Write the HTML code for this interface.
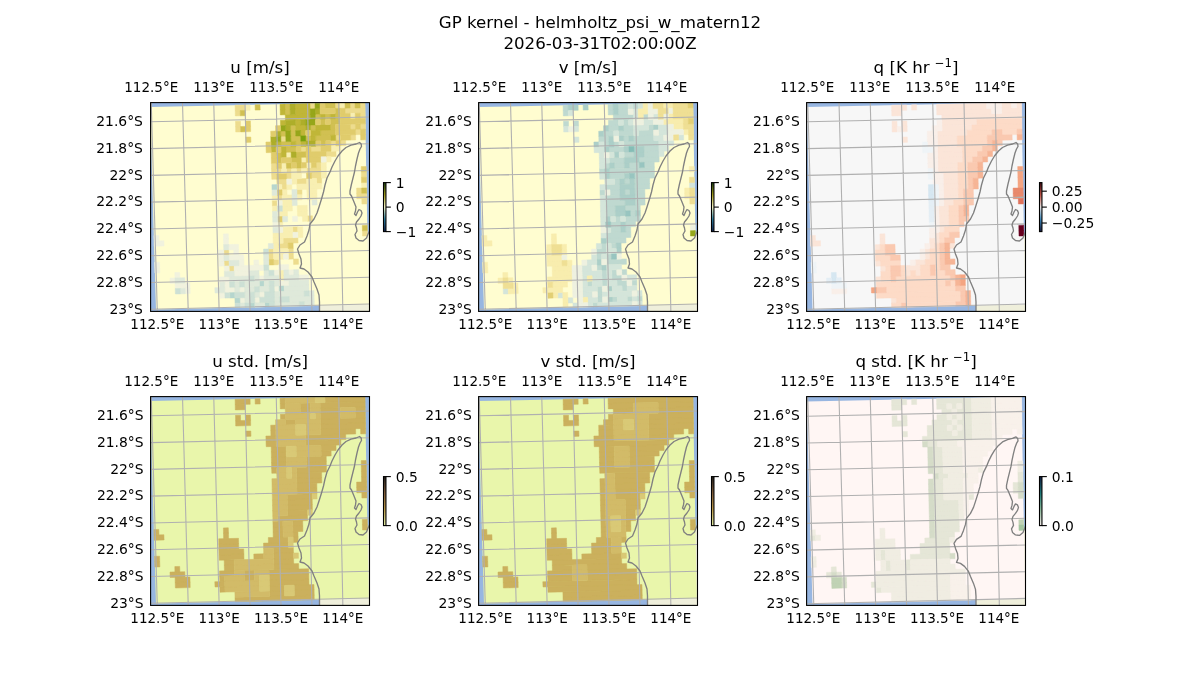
<!DOCTYPE html><html><head><meta charset="utf-8"><title>GP kernel</title><style>html,body{margin:0;padding:0;background:#fff}svg{display:block}</style></head><body><svg width="1200" height="700" viewBox="0 0 1200 700" font-family="'DejaVu Sans','Liberation Sans',sans-serif" fill="#000"><defs><clipPath id="cp"><rect x="0" y="0" width="218.9" height="208.8"/></clipPath><path id="gl" d="M0.65 0L6.7 208.8M31.9 0L37.63 208.8M63.15 0L68.55 208.8M94.4 0L99.48 208.8M125.65 0L130.4 208.8M156.9 0L161.33 208.8M188.15 0L192.25 208.8M219.4 0L223.17 208.8M0 -7.59L218.9 -12.31M0 19.2L218.9 14.4M0 45.99L218.9 41.11M0 72.77L218.9 67.83M0 99.56L218.9 94.54M0 126.34L218.9 121.26M0 153.13L218.9 147.97M0 179.92L218.9 174.68M0 206.7L218.9 201.4"/><path id="co" d="M168.9 209.4L168.9 199.4L168.4 192.4L166.4 186.4L163.4 179.4L161.4 174.4L157.4 169.4L153.4 166.4L149.4 165.4L150.9 161.4L150.4 156.4L148.4 151.4L146.9 146.4L149.4 142.4L153.9 139.4L156.4 133.4L158.4 127.4L159.4 121.4L163.4 116.4L166.4 110.4L168.4 104.4L170.9 96.4L172.9 89.4L174.4 82.4L176.4 75.4L179.4 69.4L181.4 64.4L184.4 58.4L187.4 53.4L191.4 48.4L195.4 44.9L200.4 42.6L205.4 41.4L208.9 39.9L210.6 41.4L210.9 43.9L209.4 46.4L207.9 50.4L206.4 56.4L204.9 63.4L203.9 69.4L202.4 75.4L200.9 81.4L199.4 88.4L199.4 91.4L200.9 93.4L203.4 99.4L205.4 104.4L204.9 108.4L203.9 111.4L205.4 112.9L206.9 109.4L208.4 106.9L210.4 107.9L211.4 110.4L210.4 113.4L208.4 116.4L205.9 119.4L204.9 122.4L205.9 125.4L206.4 128.4L204.4 131.9L205.4 135.4L208.4 137.9L212.4 138.4L215.9 135.4L217.9 130.4L219.4 127.4"/><path id="ex" d="M-0.47 4.48L214.4 -0.19L218.1 201.82L5.41 206.97z"/><path id="ld" d="M219.4 127.4L217.9 130.4L215.9 135.4L212.4 138.4L208.4 137.9L205.4 135.4L204.4 131.9L206.4 128.4L205.9 125.4L204.9 122.4L205.9 119.4L208.4 116.4L210.4 113.4L211.4 110.4L210.4 107.9L208.4 106.9L206.9 109.4L205.4 112.9L203.9 111.4L204.9 108.4L205.4 104.4L203.4 99.4L200.9 93.4L199.4 91.4L199.4 88.4L200.9 81.4L202.4 75.4L203.9 69.4L204.9 63.4L206.4 56.4L207.9 50.4L209.4 46.4L210.9 43.9L210.6 41.4L208.9 39.9L205.4 41.4L200.4 42.6L195.4 44.9L191.4 48.4L187.4 53.4L184.4 58.4L181.4 64.4L179.4 69.4L176.4 75.4L174.4 82.4L172.9 89.4L170.9 96.4L168.4 104.4L166.4 110.4L163.4 116.4L159.4 121.4L158.4 127.4L156.4 133.4L153.9 139.4L149.4 142.4L146.9 146.4L148.4 151.4L150.4 156.4L150.9 161.4L149.4 165.4L153.4 166.4L157.4 169.4L161.4 174.4L163.4 179.4L166.4 186.4L168.4 192.4L168.9 199.4L168.9 209.4L168.9 210.8L220.9 210.8z"/></defs><rect width="1200" height="700" fill="#fff"/><text x="600" y="28" font-size="16.67" text-anchor="middle">GP kernel - helmholtz_psi_w_matern12</text><text x="600" y="49" font-size="16.67" text-anchor="middle">2026-03-31T02:00:00Z</text><g transform="translate(150.6 102.6)"><g clip-path="url(#cp)"><rect width="218.9" height="208.8" fill="#97b6e1"/><g transform="translate(0 0)"><use href="#ld" fill="#efefdb"/><use href="#ex" fill="#fffdd0"/><g stroke-width="0.5" stroke-linejoin="miter"><path fill="#eddc8e" stroke="#eddc8e" d="M84.5 2.6L94.5 2.4L94.6 7.8L84.6 8zM159.4 1L164.4 0.9L164.5 6.2L159.5 6.3zM184.4 0.5L189.4 0.3L189.5 5.7L184.5 5.8zM199.4 0.1L204.4 0L204.5 5.4L199.5 5.5zM209.4 -0.1L214.4 -0.2L214.5 5.1L209.5 5.3zM84.6 8L89.6 7.9L89.7 13.2L84.7 13.3zM194.5 5.6L214.5 5.1L214.6 10.5L194.6 10.9zM209.6 10.6L214.6 10.5L214.7 15.8L209.7 15.9zM84.9 18.7L89.9 18.6L90 23.9L85 24zM85 24L90 23.9L90.1 29.3L85.1 29.4zM199.8 21.5L204.8 21.4L204.9 26.7L199.9 26.8zM209.8 21.3L214.8 21.2L214.9 26.5L209.9 26.6zM204.9 26.7L209.9 26.6L210 32L205 32.1zM130.2 33.7L135.2 33.6L135.3 39L130.3 39.1zM185 32.5L190 32.4L190.1 37.7L185.2 37.9zM200 32.2L205 32.1L205.1 37.4L200.1 37.5zM180.2 38L185.2 37.9L185.3 43.2L180.3 43.3zM190.1 37.7L195.1 37.6L195.2 43L190.2 43.1zM150.3 44L155.3 43.9L155.4 49.2L150.5 49.3zM160.3 43.8L170.3 43.5L170.4 48.9L160.4 49.1zM175.4 48.8L185.4 48.5L185.5 53.9L175.5 54.1zM120.8 60.7L125.8 60.6L125.9 65.9L120.9 66zM165.6 59.7L170.6 59.6L170.7 64.9L165.8 65zM120.9 66L130.9 65.8L131 71.2L121 71.4zM135.9 65.7L140.8 65.6L141 70.9L136 71zM145.8 65.5L150.8 65.4L150.9 70.7L145.9 70.8zM155.8 65.2L170.7 64.9L170.8 70.2L155.9 70.6zM121 71.4L126 71.3L126.1 76.6L121.2 76.7zM136 71L141 70.9L141.1 76.3L136.1 76.4zM160.9 70.5L170.8 70.2L171 75.6L161 75.8zM210.7 69.3L215.7 69.2L215.8 74.6L210.8 74.7zM126.1 76.6L136.1 76.4L136.2 81.7L126.3 82zM146.1 76.2L156 75.9L156.1 81.3L146.2 81.5zM166 75.7L171 75.6L171.1 80.9L166.1 81zM131.2 81.8L136.2 81.7L136.3 87.1L131.4 87.2zM146.3 86.8L151.3 86.7L151.4 92.1L146.4 92.2zM206 85.5L211 85.4L211.1 90.7L206.1 90.8zM126.5 92.6L131.5 92.5L131.6 97.9L126.6 98zM206.1 90.8L216.1 90.6L216.2 95.9L206.2 96.2zM121.7 98.1L126.6 98L126.8 103.3L121.8 103.5zM211.2 96.1L216.2 95.9L216.3 101.3L211.3 101.4zM156.8 113.3L161.8 113.2L161.9 118.6L156.9 118.7zM142.1 124.4L147.1 124.3L147.2 129.6L142.3 129.7zM211.8 128.1L216.7 128L216.8 133.3L211.9 133.4zM132.5 135.3L147.3 135L147.5 140.3L132.6 140.6zM127.6 140.8L137.5 140.5L137.7 145.9L127.7 146.1zM73.2 147.4L78.1 147.3L78.3 152.6L73.3 152.7zM117.8 146.3L122.8 146.2L122.9 151.6L117.9 151.7zM137.7 145.9L142.6 145.8L142.7 151.1L137.8 151.2zM117.9 151.7L122.9 151.6L123 156.9L118.1 157zM137.8 151.2L142.7 151.1L142.9 156.4L137.9 156.6zM73.4 158.1L78.4 158L78.5 163.3L73.6 163.4zM123 156.9L128 156.8L128.1 162.1L123.1 162.3zM142.9 156.4L147.8 156.3L147.9 161.7L143 161.8zM78.5 163.3L83.5 163.2L83.6 168.6L78.7 168.7z"/><path fill="#f8efb2" stroke="#f8efb2" d="M94.5 2.4L99.5 2.3L99.6 7.7L94.6 7.8zM189.4 0.3L194.4 0.2L194.5 5.6L189.5 5.7zM199.6 10.8L204.6 10.7L204.7 16L199.7 16.2zM180.3 43.3L190.2 43.1L190.3 48.4L180.4 48.7zM135.5 49.7L140.5 49.5L140.6 54.9L135.6 55zM150.6 54.7L155.6 54.6L155.7 59.9L150.7 60zM175.5 54.1L180.5 54L180.6 59.3L175.6 59.5zM130.8 60.5L135.7 60.3L135.9 65.7L130.9 65.8zM155.7 59.9L160.7 59.8L160.8 65.1L155.8 65.2zM170.6 59.6L175.6 59.5L175.7 64.8L170.7 64.9zM130.9 65.8L135.9 65.7L136 71L131 71.2zM140.8 65.6L145.8 65.5L145.9 70.8L141 70.9zM150.8 65.4L155.8 65.2L155.9 70.6L150.9 70.7zM170.7 64.9L175.7 64.8L175.8 70.1L170.8 70.2zM141 70.9L150.9 70.7L151 76L141.1 76.3zM170.8 70.2L175.8 70.1L175.9 75.5L171 75.6zM141.1 76.3L146.1 76.2L146.2 81.5L141.2 81.6zM156 75.9L166 75.7L166.1 81L156.1 81.3zM126.3 82L131.2 81.8L131.4 87.2L126.4 87.3zM136.2 81.7L141.2 81.6L141.3 87L136.3 87.1zM146.2 81.5L171.1 80.9L171.2 86.3L146.3 86.8zM210.9 80L215.9 79.9L216 85.3L211 85.4zM131.4 87.2L136.3 87.1L136.5 92.4L131.5 92.5zM156.2 86.6L166.2 86.4L166.3 91.7L156.4 92zM121.5 92.8L126.5 92.6L126.6 98L121.7 98.1zM131.5 92.5L141.4 92.3L141.6 97.7L131.6 97.9zM146.4 92.2L151.4 92.1L151.5 97.4L146.5 97.5zM156.4 92L166.3 91.7L166.4 97.1L156.5 97.3zM131.6 97.9L141.6 97.7L141.7 103L131.7 103.2zM121.8 103.5L126.8 103.3L126.9 108.7L121.9 108.8zM131.7 103.2L141.7 103L141.8 108.3L131.8 108.6zM146.6 102.9L156.6 102.7L156.7 108L146.8 108.2zM126.9 108.7L136.8 108.5L136.9 113.8L127 114zM146.8 108.2L156.7 108L156.8 113.3L146.9 113.6zM151.8 113.5L156.8 113.3L156.9 118.7L152 118.8zM127.1 119.4L132.1 119.3L132.2 124.6L127.2 124.7zM132.2 124.6L142.1 124.4L142.3 129.7L132.3 130zM147.1 124.3L152.1 124.1L152.2 129.5L147.2 129.6zM122.4 130.2L142.3 129.7L142.4 135.1L122.5 135.5zM147.2 129.6L152.2 129.5L152.3 134.8L147.3 135zM122.5 135.5L132.5 135.3L132.6 140.6L122.6 140.9zM122.6 140.9L127.6 140.8L127.7 146.1L122.8 146.2zM122.8 146.2L137.7 145.9L137.8 151.2L122.9 151.6zM122.9 151.6L132.8 151.3L132.9 156.7L123 156.9zM128.2 167.5L133.2 167.4L133.3 172.7L128.3 172.8zM128.3 172.8L133.3 172.7L133.4 178.1L128.5 178.2z"/><path fill="#d1c052" stroke="#d1c052" d="M104.5 2.2L109.4 2.1L109.6 7.4L104.6 7.5zM134.4 1.5L139.4 1.4L139.5 6.8L134.6 6.9zM174.4 0.7L184.4 0.5L184.5 5.8L174.5 6zM194.4 0.2L199.4 0.1L199.5 5.5L194.5 5.6zM204.4 0L209.4 -0.1L209.5 5.3L204.5 5.4zM89.6 7.9L94.6 7.8L94.7 13.1L89.7 13.2zM134.6 6.9L139.5 6.8L139.7 12.1L134.7 12.2zM184.5 5.8L189.5 5.7L189.6 11L184.6 11.1zM164.6 11.6L169.6 11.5L169.7 16.8L164.8 16.9zM174.6 11.4L179.6 11.3L179.7 16.6L174.7 16.7zM184.6 11.1L189.6 11L189.7 16.4L184.7 16.5zM169.7 16.8L174.7 16.7L174.8 22L169.9 22.2zM179.7 16.6L189.7 16.4L189.8 21.7L179.8 21.9zM90 23.9L95 23.8L95.1 29.2L90.1 29.3zM139.9 22.8L144.9 22.7L145 28.1L140 28.2zM159.9 22.4L164.9 22.3L165 27.6L160 27.7zM179.8 21.9L184.8 21.8L184.9 27.2L179.9 27.3zM130 28.4L135 28.3L135.2 33.6L130.2 33.7zM140 28.2L145 28.1L145.1 33.4L140.1 33.5zM170 27.5L184.9 27.2L185 32.5L170.1 32.8zM140.1 33.5L150.1 33.3L150.2 38.6L140.3 38.9zM155.1 33.2L160.1 33.1L160.2 38.4L155.2 38.5zM165.1 33L180.1 32.6L180.2 38L165.2 38.3zM130.3 39.1L140.3 38.9L140.4 44.2L130.4 44.4zM145.2 38.7L150.2 38.6L150.3 44L145.4 44.1zM170.2 38.2L175.2 38.1L175.3 43.4L170.3 43.5zM135.4 44.3L145.4 44.1L145.5 49.4L135.5 49.7zM125.5 49.9L130.5 49.8L130.6 55.1L125.7 55.2zM145.5 49.4L155.4 49.2L155.6 54.6L145.6 54.8zM125.7 55.2L130.6 55.1L130.8 60.5L125.8 60.6zM140.6 54.9L150.6 54.7L150.7 60L140.7 60.2zM135.7 60.3L140.7 60.2L140.8 65.6L135.9 65.7zM145.7 60.1L150.7 60L150.8 65.4L145.8 65.5zM211 85.4L216 85.3L216.1 90.6L211.1 90.7zM211.7 122.8L216.6 122.6L216.7 128L211.8 128.1z"/><path fill="#c0b638" stroke="#c0b638" d="M129.4 1.7L134.4 1.5L134.6 6.9L129.6 7zM144.4 1.3L159.4 1L159.5 6.3L144.5 6.7zM129.6 7L134.6 6.9L134.7 12.2L129.7 12.3zM144.5 6.7L159.5 6.3L159.6 11.7L144.7 12zM134.7 12.2L159.6 11.7L159.8 17L134.8 17.6zM169.6 11.5L174.6 11.4L174.7 16.7L169.7 16.8zM179.6 11.3L184.6 11.1L184.7 16.5L179.7 16.6zM129.8 17.7L134.8 17.6L134.9 22.9L129.9 23zM144.8 17.4L149.8 17.3L149.9 22.6L144.9 22.7zM144.9 22.7L154.9 22.5L155 27.8L145 28.1zM164.9 22.3L179.8 21.9L179.9 27.3L165 27.6zM150 27.9L155 27.8L155.1 33.2L150.1 33.3zM160 27.7L170 27.5L170.1 32.8L160.1 33.1zM160.1 33.1L165.1 33L165.2 38.3L160.2 38.4zM180.1 32.6L185 32.5L185.2 37.9L180.2 38zM125.3 39.2L130.3 39.1L130.4 44.4L125.4 44.5zM140.3 38.9L145.2 38.7L145.4 44.1L140.4 44.2zM150.2 38.6L155.2 38.5L155.3 43.9L150.3 44zM120.4 44.6L125.4 44.5L125.5 49.9L120.6 50zM130.4 44.4L135.4 44.3L135.5 49.7L130.5 49.8zM130.5 49.8L135.5 49.7L135.6 55L130.6 55.1z"/><path fill="#aeae2a" stroke="#aeae2a" d="M139.4 1.4L144.4 1.3L144.5 6.7L139.5 6.8zM139.5 6.8L144.5 6.7L144.7 12L139.7 12.1zM164.5 6.2L169.5 6.1L169.6 11.5L164.6 11.6zM134.8 17.6L144.8 17.4L144.9 22.7L134.9 22.9zM149.8 17.3L154.8 17.1L154.9 22.5L149.9 22.6zM134.9 22.9L139.9 22.8L140 28.2L135 28.3zM154.9 22.5L159.9 22.4L160 27.7L155 27.8zM125 28.5L130 28.4L130.2 33.7L125.2 33.8zM120.2 33.9L125.2 33.8L125.3 39.2L120.3 39.3zM120.3 39.3L125.3 39.2L125.4 44.5L120.4 44.6zM155.2 38.5L165.2 38.3L165.3 43.6L155.3 43.9zM140.5 49.5L145.5 49.4L145.6 54.8L140.6 54.9z"/><path fill="#96a61a" stroke="#96a61a" d="M164.4 0.9L169.4 0.8L169.5 6.1L164.5 6.2zM159.5 6.3L164.5 6.2L164.6 11.6L159.6 11.7zM159.6 11.7L164.6 11.6L164.8 16.9L159.8 17zM154.8 17.1L164.8 16.9L164.9 22.3L154.9 22.5zM129.9 23L134.9 22.9L135 28.3L130 28.4zM135 28.3L140 28.2L140.1 33.5L135.2 33.6zM145 28.1L150 27.9L150.1 33.3L145.1 33.4zM125.2 33.8L130.2 33.7L130.3 39.1L125.3 39.2zM135.2 33.6L140.1 33.5L140.3 38.9L135.3 39z"/><path fill="#e0cc6c" stroke="#e0cc6c" d="M169.4 0.8L174.4 0.7L174.5 6L169.5 6.1zM169.5 6.1L184.5 5.8L184.6 11.1L169.6 11.5zM189.5 5.7L194.5 5.6L194.6 10.9L189.6 11zM189.6 11L199.6 10.8L199.7 16.2L189.7 16.4zM204.6 10.7L209.6 10.6L209.7 15.9L204.7 16zM94.8 18.5L99.8 18.3L100 23.7L95 23.8zM164.8 16.9L169.7 16.8L169.9 22.2L164.9 22.3zM174.7 16.7L179.7 16.6L179.8 21.9L174.8 22zM189.7 16.4L214.7 15.8L214.8 21.2L189.8 21.7zM95 23.8L100 23.7L100.1 29L95.1 29.2zM124.9 23.1L129.9 23L130 28.4L125 28.5zM184.8 21.8L199.8 21.5L199.9 26.8L184.9 27.2zM204.8 21.4L209.8 21.3L209.9 26.6L204.9 26.7zM120.1 28.6L125 28.5L125.2 33.8L120.2 33.9zM155 27.8L160 27.7L160.1 33.1L155.1 33.2zM184.9 27.2L204.9 26.7L205 32.1L185 32.5zM209.9 26.6L214.9 26.5L215 31.9L210 32zM95.2 34.5L100.2 34.4L100.4 39.7L95.4 39.9zM190 32.4L200 32.2L200.1 37.5L190.1 37.7zM210 32L215 31.9L215.1 37.2L210.1 37.3zM115.3 39.4L120.3 39.3L120.4 44.6L115.4 44.8zM165.2 38.3L170.2 38.2L170.3 43.5L165.3 43.6zM175.2 38.1L180.2 38L180.3 43.3L175.3 43.4zM185.2 37.9L190.1 37.7L190.2 43.1L185.3 43.2zM115.4 44.8L120.4 44.6L120.6 50L115.6 50.1zM125.4 44.5L130.4 44.4L130.5 49.8L125.5 49.9zM145.4 44.1L150.3 44L150.5 49.3L145.5 49.4zM155.3 43.9L160.3 43.8L160.4 49.1L155.4 49.2zM170.3 43.5L180.3 43.3L180.4 48.7L170.4 48.9zM120.6 50L125.5 49.9L125.7 55.2L120.7 55.3zM155.4 49.2L175.4 48.8L175.5 54.1L155.6 54.6zM120.7 55.3L125.7 55.2L125.8 60.6L120.8 60.7zM130.6 55.1L140.6 54.9L140.7 60.2L130.8 60.5zM155.6 54.6L170.5 54.2L170.6 59.6L155.7 59.9zM125.8 60.6L130.8 60.5L130.9 65.8L125.9 65.9zM140.7 60.2L145.7 60.1L145.8 65.5L140.8 65.6zM150.7 60L155.7 59.9L155.8 65.2L150.8 65.4zM160.7 59.8L165.6 59.7L165.8 65L160.8 65.1zM210.6 64L215.6 63.9L215.7 69.2L210.7 69.3zM126 71.3L136 71L136.1 76.4L126.1 76.6zM155.9 70.6L160.9 70.5L161 75.8L156 75.9zM210.8 74.7L215.8 74.6L215.9 79.9L210.9 80zM126.4 87.3L131.4 87.2L131.5 92.5L126.5 92.6zM127 114L132 113.9L132.1 119.3L127.1 119.4zM137.5 140.5L142.5 140.4L142.6 145.8L137.7 145.9zM118.1 157L123 156.9L123.1 162.3L118.2 162.4z"/><path fill="#7a9e0c" stroke="#7a9e0c" d="M150.1 33.3L155.1 33.2L155.2 38.5L150.2 38.6z"/><path fill="#f1f2de" stroke="#f1f2de" d="M170.5 54.2L175.5 54.1L175.6 59.5L170.6 59.6zM136.1 76.4L141.1 76.3L141.2 81.6L136.2 81.7zM126.6 98L131.6 97.9L131.7 103.2L126.8 103.3zM141.9 113.7L146.9 113.6L147 118.9L142 119zM122.2 119.5L127.1 119.4L127.2 124.7L122.3 124.8zM127.2 124.7L132.2 124.6L132.3 130L127.4 130.1zM3.3 133L8.2 132.8L8.4 138.2L3.4 138.3zM72.8 131.3L77.7 131.2L77.9 136.6L72.9 136.7zM142.3 129.7L147.2 129.6L147.3 135L142.4 135.1zM3.4 138.3L13.3 138.1L13.5 143.4L3.6 143.7zM72.9 136.7L77.9 136.6L78 141.9L73 142zM78 141.9L87.9 141.7L88 147L78.1 147.3zM68.2 147.5L73.2 147.4L73.3 152.7L68.3 152.9zM83.1 147.2L88 147L88.2 152.4L83.2 152.5zM68.3 152.9L73.3 152.7L73.4 158.1L68.5 158.2zM78.3 152.6L93.1 152.3L93.3 157.6L78.4 158zM132.8 151.3L137.8 151.2L137.9 156.6L132.9 156.7zM4 159.7L9 159.6L9.1 165L4.2 165.1zM68.5 158.2L73.4 158.1L73.6 163.4L68.6 163.6zM88.3 157.7L93.3 157.6L93.4 163L88.4 163.1zM103.2 157.4L108.1 157.3L108.3 162.6L103.3 162.7zM4.2 165.1L9.1 165L9.3 170.3L4.3 170.4zM73.6 163.4L78.5 163.3L78.7 168.7L73.7 168.8zM83.5 163.2L113.2 162.5L113.4 167.8L83.6 168.6zM128.1 162.1L138 161.9L138.1 167.3L128.2 167.5zM24.2 170L29.1 169.8L29.3 175.2L24.3 175.3zM83.6 168.6L98.5 168.2L98.6 173.5L83.8 173.9zM123.3 167.6L128.2 167.5L128.3 172.8L123.4 173zM138.1 167.3L143.1 167.1L143.2 172.5L138.3 172.6zM19.4 175.4L24.3 175.3L24.5 180.7L19.5 180.8zM68.9 174.3L78.8 174L78.9 179.4L69 179.6zM108.5 173.3L113.5 173.2L113.6 178.5L108.7 178.7zM148.2 172.4L158.1 172.1L158.2 177.5L148.3 177.7zM24.5 180.7L39.3 180.3L39.5 185.7L24.6 186zM74 179.5L78.9 179.4L79.1 184.7L74.1 184.8zM128.5 178.2L138.4 177.9L138.5 183.3L128.6 183.5zM34.5 185.8L39.5 185.7L39.6 191L34.7 191.1zM74.1 184.8L84 184.6L84.2 189.9L74.3 190.2zM89 184.5L93.9 184.4L94.1 189.7L89.1 189.8zM123.6 183.6L128.6 183.5L128.7 188.9L123.8 189zM69.3 190.3L74.3 190.2L74.4 195.5L69.4 195.7zM108.9 189.4L113.9 189.2L114 194.6L109 194.7zM89.2 195.2L94.2 195.1L94.3 200.4L89.4 200.5zM104.1 194.8L109 194.7L109.2 200L104.2 200.2z"/><path fill="#b6d6ce" stroke="#b6d6ce" d="M121.3 82.1L126.3 82L126.4 87.3L121.4 87.4zM108.7 178.7L113.6 178.5L113.7 183.9L108.8 184zM128.6 183.5L133.5 183.4L133.7 188.8L128.7 188.9zM79.2 190.1L84.2 189.9L84.3 195.3L79.3 195.4zM84.3 195.3L89.2 195.2L89.4 200.5L84.4 200.6zM99.3 200.3L104.2 200.2L104.3 204.6L99.4 204.7zM114.1 199.9L119.1 199.8L119.2 204.2L114.2 204.3z"/><path fill="#dfe9da" stroke="#dfe9da" d="M121.4 87.4L126.4 87.3L126.5 92.6L121.5 92.8zM141.3 87L146.3 86.8L146.4 92.2L141.4 92.3zM141.4 92.3L146.4 92.2L146.5 97.5L141.6 97.7zM141.6 97.7L146.5 97.5L146.6 102.9L141.7 103zM161.4 97.2L166.4 97.1L166.5 102.4L161.6 102.5zM121.9 108.8L126.9 108.7L127 114L122 114.1zM122 114.1L127 114L127.1 119.4L122.2 119.5zM132 113.9L136.9 113.8L137.1 119.1L132.1 119.3zM122.3 124.8L127.2 124.7L127.4 130.1L122.4 130.2zM73 142L78 141.9L78.1 147.3L73.2 147.4zM117.7 141L122.6 140.9L122.8 146.2L117.8 146.3zM73.3 152.7L78.3 152.6L78.4 158L73.4 158.1zM113 151.8L117.9 151.7L118.1 157L113.1 157.2zM78.4 158L88.3 157.7L88.4 163.1L78.5 163.3zM113.1 157.2L118.1 157L118.2 162.4L113.2 162.5zM73.7 168.8L83.6 168.6L83.8 173.9L73.8 174.1zM98.5 168.2L108.4 168L108.5 173.3L98.6 173.5zM113.4 167.8L118.3 167.7L118.4 173.1L113.5 173.2zM133.2 167.4L138.1 167.3L138.3 172.6L133.3 172.7zM143.1 167.1L148 167L148.2 172.4L143.2 172.5zM24.3 175.3L34.2 175.1L34.4 180.4L24.5 180.7zM78.8 174L98.6 173.5L98.7 178.9L78.9 179.4zM103.6 173.4L108.5 173.3L108.7 178.7L103.7 178.8zM113.5 173.2L128.3 172.8L128.5 178.2L113.6 178.5zM133.3 172.7L148.2 172.4L148.3 177.7L133.4 178.1zM69 179.6L74 179.5L74.1 184.8L69.2 185zM83.9 179.2L88.8 179.1L89 184.5L84 184.6zM93.8 179L108.7 178.7L108.8 184L93.9 184.4zM113.6 178.5L118.6 178.4L118.7 183.8L113.7 183.9zM123.5 178.3L128.5 178.2L128.6 183.5L123.6 183.6zM138.4 177.9L158.2 177.5L158.3 182.8L138.5 183.3zM29.6 185.9L34.5 185.8L34.7 191.1L29.7 191.3zM64.2 185.1L74.1 184.8L74.3 190.2L64.4 190.4zM84 184.6L89 184.5L89.1 189.8L84.2 189.9zM93.9 184.4L103.8 184.1L104 189.5L94.1 189.7zM108.8 184L118.7 183.8L118.8 189.1L108.9 189.4zM133.5 183.4L158.3 182.8L158.4 188.2L133.7 188.8zM94.1 189.7L99 189.6L99.1 194.9L94.2 195.1zM104 189.5L108.9 189.4L109 194.7L104.1 194.8zM123.8 189L153.5 188.3L153.6 193.6L123.9 194.3zM158.4 188.2L163.4 188L163.5 193.4L158.5 193.5zM94.2 195.1L99.1 194.9L99.3 200.3L94.3 200.4zM123.9 194.3L128.8 194.2L129 199.6L124 199.7zM138.7 194L163.5 193.4L163.6 198.7L138.8 199.3zM89.4 200.5L94.3 200.4L94.4 204.8L89.5 204.9zM104.2 200.2L114.1 199.9L114.2 204.3L104.3 204.6zM124 199.7L148.7 199.1L148.8 203.5L124.1 204.1zM153.7 199L163.6 198.7L163.7 203.1L153.8 203.4z"/><path fill="#cde0d5" stroke="#cde0d5" d="M126.8 103.3L131.7 103.2L131.8 108.6L126.9 108.7zM112.9 146.5L117.8 146.3L117.9 151.7L113 151.8zM113.2 162.5L118.2 162.4L118.3 167.7L113.4 167.8zM118.3 167.7L123.3 167.6L123.4 173L118.4 173.1zM98.6 173.5L103.6 173.4L103.7 178.8L98.7 178.9zM78.9 179.4L83.9 179.2L84 184.6L79.1 184.7zM88.8 179.1L93.8 179L93.9 184.4L89 184.5zM118.6 178.4L123.5 178.3L123.6 183.6L118.7 183.8zM24.6 186L29.6 185.9L29.7 191.3L24.8 191.4zM103.8 184.1L108.8 184L108.9 189.4L104 189.5zM118.7 183.8L123.6 183.6L123.8 189L118.8 189.1zM74.3 190.2L79.2 190.1L79.3 195.4L74.4 195.5zM84.2 189.9L94.1 189.7L94.2 195.1L84.3 195.3zM99 189.6L104 189.5L104.1 194.8L99.1 194.9zM113.9 189.2L123.8 189L123.9 194.3L114 194.6zM153.5 188.3L158.4 188.2L158.5 193.5L153.6 193.6zM99.1 194.9L104.1 194.8L104.2 200.2L99.3 200.3zM109 194.7L123.9 194.3L124 199.7L109.2 200zM128.8 194.2L138.7 194L138.8 199.3L129 199.6zM84.4 200.6L89.4 200.5L89.5 204.9L84.5 205.1zM94.3 200.4L99.3 200.3L99.4 204.7L94.4 204.8zM119.1 199.8L124 199.7L124.1 204.1L119.2 204.2zM148.7 199.1L153.7 199L153.8 203.4L148.8 203.5z"/></g><use href="#gl" fill="none" stroke="#b0b0b0" stroke-width="1.1" stroke-opacity="1"/><use href="#co" fill="none" stroke="#808080" stroke-width="1.35" stroke-linejoin="round"/></g></g><rect width="218.9" height="208.8" fill="none" stroke="#000" stroke-width="1.1"/></g><g font-size="13.89"><text x="151.25" y="92" text-anchor="middle" font-size="13.5">112.5°E</text><text x="157.3" y="328.7" text-anchor="middle" font-size="13.5">112.5°E</text><text x="213.75" y="92" text-anchor="middle" font-size="13.5">113°E</text><text x="219.15" y="328.7" text-anchor="middle" font-size="13.5">113°E</text><text x="276.25" y="92" text-anchor="middle" font-size="13.5">113.5°E</text><text x="281" y="328.7" text-anchor="middle" font-size="13.5">113.5°E</text><text x="338.75" y="92" text-anchor="middle" font-size="13.5">114°E</text><text x="342.85" y="328.7" text-anchor="middle" font-size="13.5">114°E</text><text x="142.9" y="126.1" text-anchor="end">21.6°S</text><text x="142.9" y="152.89" text-anchor="end">21.8°S</text><text x="142.9" y="179.67" text-anchor="end">22°S</text><text x="142.9" y="206.46" text-anchor="end">22.2°S</text><text x="142.9" y="233.24" text-anchor="end">22.4°S</text><text x="142.9" y="260.03" text-anchor="end">22.6°S</text><text x="142.9" y="286.82" text-anchor="end">22.8°S</text><text x="142.9" y="313.6" text-anchor="end">23°S</text></g><text x="260.05" y="72.6" font-size="16.67" text-anchor="middle">u [m/s]</text><linearGradient id="g0" x1="0" y1="1" x2="0" y2="0"><stop offset="0" stop-color="#11204d"/><stop offset="0.25" stop-color="#2e7fa0"/><stop offset="0.5" stop-color="#fffdcd"/><stop offset="0.75" stop-color="#a9a11e"/><stop offset="1" stop-color="#173d0e"/></linearGradient><rect x="383.5" y="182.6" width="2.45" height="49" fill="url(#g0)" stroke="#000" stroke-width="1.1"/><g font-size="13.89"><path d="M385.95 231.6h4.9" stroke="#000" stroke-width="1.1"/><text x="395.75" y="236.8">−1</text><path d="M385.95 207.1h4.9" stroke="#000" stroke-width="1.1"/><text x="395.75" y="212.3">0</text><path d="M385.95 182.6h4.9" stroke="#000" stroke-width="1.1"/><text x="395.75" y="187.8">1</text></g><g transform="translate(478.6 102.6)"><g clip-path="url(#cp)"><rect width="218.9" height="208.8" fill="#97b6e1"/><g transform="translate(0 0)"><use href="#ld" fill="#efefdb"/><use href="#ex" fill="#fffdd0"/><g stroke-width="0.5" stroke-linejoin="miter"><path fill="#bfd9d0" stroke="#bfd9d0" d="M84.5 2.6L89.5 2.5L89.6 7.9L84.6 8zM129.4 1.7L134.4 1.5L134.6 6.9L129.6 7zM139.4 1.4L149.4 1.2L149.5 6.6L139.5 6.8zM154.4 1.1L159.4 1L159.5 6.3L154.5 6.5zM84.6 8L89.6 7.9L89.7 13.2L84.7 13.3zM129.6 7L134.6 6.9L134.7 12.2L129.7 12.3zM139.5 6.8L149.5 6.6L149.7 11.9L139.7 12.1zM134.7 12.2L154.7 11.8L154.8 17.1L134.8 17.6zM164.6 11.6L169.6 11.5L169.7 16.8L164.8 16.9zM84.9 18.7L89.9 18.6L90 23.9L85 24zM94.8 18.5L99.8 18.3L100 23.7L95 23.8zM129.8 17.7L139.8 17.5L139.9 22.8L129.9 23zM144.8 17.4L149.8 17.3L149.9 22.6L144.9 22.7zM129.9 23L139.9 22.8L140 28.2L130 28.4zM144.9 22.7L154.9 22.5L155 27.8L145 28.1zM169.9 22.2L174.8 22L175 27.4L170 27.5zM125 28.5L135 28.3L135.2 33.6L125.2 33.8zM140 28.2L155 27.8L155.1 33.2L140.1 33.5zM160 27.7L175 27.4L175.1 32.7L160.1 33.1zM120.2 33.9L130.2 33.7L130.3 39.1L120.3 39.3zM145.1 33.4L150.1 33.3L150.2 38.6L145.2 38.7zM155.1 33.2L175.1 32.7L175.2 38.1L155.2 38.5zM125.3 39.2L130.3 39.1L130.4 44.4L125.4 44.5zM135.3 39L140.3 38.9L140.4 44.2L135.4 44.3zM145.2 38.7L180.2 38L180.3 43.3L145.4 44.1zM130.4 44.4L145.4 44.1L145.5 49.4L130.5 49.8zM165.3 43.6L180.3 43.3L180.4 48.7L165.4 49zM145.5 49.4L155.4 49.2L155.6 54.6L145.6 54.8zM165.4 49L180.4 48.7L180.5 54L165.5 54.3zM130.6 55.1L145.6 54.8L145.7 60.1L130.8 60.5zM160.5 54.4L180.5 54L180.6 59.3L160.7 59.8zM125.8 60.6L130.8 60.5L130.9 65.8L125.9 65.9zM135.7 60.3L145.7 60.1L145.8 65.5L135.9 65.7zM150.7 60L160.7 59.8L160.8 65.1L150.8 65.4zM165.6 59.7L175.6 59.5L175.7 64.8L165.8 65zM120.9 66L125.9 65.9L126 71.3L121 71.4zM130.9 65.8L175.7 64.8L175.8 70.1L131 71.2zM131 71.2L145.9 70.8L146.1 76.2L131.1 76.5zM155.9 70.6L175.8 70.1L175.9 75.5L156 75.9zM136.1 76.4L141.1 76.3L141.2 81.6L136.2 81.7zM146.1 76.2L151 76L151.2 81.4L146.2 81.5zM156 75.9L171 75.6L171.1 80.9L156.1 81.3zM126.3 82L141.2 81.6L141.3 87L126.4 87.3zM156.1 81.3L171.1 80.9L171.2 86.3L156.2 86.6zM121.4 87.4L126.4 87.3L126.5 92.6L121.5 92.8zM131.4 87.2L141.3 87L141.4 92.3L131.5 92.5zM146.3 86.8L151.3 86.7L151.4 92.1L146.4 92.2zM156.2 86.6L166.2 86.4L166.3 91.7L156.4 92zM126.5 92.6L141.4 92.3L141.6 97.7L126.6 98zM156.4 92L166.3 91.7L166.4 97.1L156.5 97.3zM126.6 98L146.5 97.5L146.6 102.9L126.8 103.3zM156.5 97.3L166.4 97.1L166.5 102.4L156.6 102.7zM126.8 103.3L136.7 103.1L136.8 108.5L126.9 108.7zM146.6 102.9L161.6 102.5L161.7 107.9L146.8 108.2zM126.9 108.7L136.8 108.5L136.9 113.8L127 114zM151.7 108.1L156.7 108L156.8 113.3L151.8 113.5zM136.9 113.8L141.9 113.7L142 119L137.1 119.1zM146.9 113.6L161.8 113.2L161.9 118.6L147 118.9zM132.1 119.3L142 119L142.1 124.4L132.2 124.6zM147 118.9L156.9 118.7L157 124L147.1 124.3zM132.2 124.6L142.1 124.4L142.3 129.7L132.3 130zM147.1 124.3L152.1 124.1L152.2 129.5L147.2 129.6zM127.4 130.1L152.2 129.5L152.3 134.8L127.5 135.4zM127.5 135.4L147.3 135L147.5 140.3L127.6 140.8zM122.6 140.9L127.6 140.8L127.7 146.1L122.8 146.2zM132.6 140.6L137.5 140.5L137.7 145.9L132.7 146zM117.8 146.3L127.7 146.1L127.9 151.5L117.9 151.7zM117.9 151.7L122.9 151.6L123 156.9L118.1 157zM127.9 151.5L132.8 151.3L132.9 156.7L128 156.8zM128 156.8L147.8 156.3L147.9 161.7L128.1 162.1zM118.2 162.4L123.1 162.3L123.3 167.6L118.3 167.7zM123.3 167.6L128.2 167.5L128.3 172.8L123.4 173zM133.2 167.4L138.1 167.3L138.3 172.6L133.3 172.7zM143.1 167.1L148 167L148.2 172.4L143.2 172.5zM123.4 173L128.3 172.8L128.5 178.2L123.5 178.3zM133.3 172.7L143.2 172.5L143.3 177.8L133.4 178.1zM108.7 178.7L113.6 178.5L113.7 183.9L108.8 184zM123.5 178.3L128.5 178.2L128.6 183.5L123.6 183.6zM138.4 177.9L148.3 177.7L148.4 183.1L138.5 183.3zM153.2 177.6L158.2 177.5L158.3 182.8L153.3 182.9zM118.7 183.8L123.6 183.6L123.8 189L118.8 189.1zM143.4 183.2L148.4 183.1L148.5 188.4L143.6 188.5zM118.8 189.1L123.8 189L123.9 194.3L118.9 194.5zM118.9 194.5L123.9 194.3L124 199.7L119.1 199.8zM133.8 194.1L138.7 194L138.8 199.3L133.9 199.4zM148.6 193.7L153.6 193.6L153.7 199L148.7 199.1zM158.5 193.5L163.5 193.4L163.6 198.7L158.6 198.8zM114.1 199.9L119.1 199.8L119.2 204.2L114.2 204.3z"/><path fill="#accfc8" stroke="#accfc8" d="M89.5 2.5L99.5 2.3L99.6 7.7L89.6 7.9zM104.5 2.2L109.4 2.1L109.6 7.4L104.6 7.5zM134.4 1.5L139.4 1.4L139.5 6.8L134.6 6.9zM134.6 6.9L139.5 6.8L139.7 12.1L134.7 12.2zM124.9 23.1L129.9 23L130 28.4L125 28.5zM139.9 22.8L144.9 22.7L145 28.1L140 28.2zM174.8 22L179.8 21.9L179.9 27.3L175 27.4zM120.1 28.6L125 28.5L125.2 33.8L120.2 33.9zM130.2 33.7L135.2 33.6L135.3 39L130.3 39.1zM140.1 33.5L145.1 33.4L145.2 38.7L140.3 38.9zM150.1 33.3L155.1 33.2L155.2 38.5L150.2 38.6zM115.3 39.4L120.3 39.3L120.4 44.6L115.4 44.8zM130.3 39.1L135.3 39L135.4 44.3L130.4 44.4zM125.4 44.5L130.4 44.4L130.5 49.8L125.5 49.9zM145.4 44.1L150.3 44L150.5 49.3L145.5 49.4zM155.3 43.9L165.3 43.6L165.4 49L155.4 49.2zM135.5 49.7L140.5 49.5L140.6 54.9L135.6 55zM155.4 49.2L165.4 49L165.5 54.3L155.6 54.6zM145.6 54.8L160.5 54.4L160.7 59.8L145.7 60.1zM130.8 60.5L135.7 60.3L135.9 65.7L130.9 65.8zM145.7 60.1L150.7 60L150.8 65.4L145.8 65.5zM125.9 65.9L130.9 65.8L131 71.2L126 71.3zM126 71.3L131 71.2L131.1 76.5L126.1 76.6zM145.9 70.8L150.9 70.7L151 76L146.1 76.2zM141.1 76.3L146.1 76.2L146.2 81.5L141.2 81.6zM151 76L156 75.9L156.1 81.3L151.2 81.4zM141.2 81.6L156.1 81.3L156.2 86.6L141.3 87zM141.3 87L146.3 86.8L146.4 92.2L141.4 92.3zM151.3 86.7L156.2 86.6L156.4 92L151.4 92.1zM141.4 92.3L156.4 92L156.5 97.3L141.6 97.7zM146.5 97.5L156.5 97.3L156.6 102.7L146.6 102.9zM136.7 103.1L146.6 102.9L146.8 108.2L136.8 108.5zM136.8 108.5L146.8 108.2L146.9 113.6L136.9 113.8zM156.7 108L161.7 107.9L161.8 113.2L156.8 113.3zM127 114L132 113.9L132.1 119.3L127.1 119.4zM142 119L147 118.9L147.1 124.3L142.1 124.4zM142.1 124.4L147.1 124.3L147.2 129.6L142.3 129.7zM122.5 135.5L127.5 135.4L127.6 140.8L122.6 140.9zM137.5 140.5L142.5 140.4L142.6 145.8L137.7 145.9zM137.7 145.9L142.6 145.8L142.7 151.1L137.8 151.2zM118.1 157L123 156.9L123.1 162.3L118.2 162.4zM123.1 162.3L128.1 162.1L128.2 167.5L123.3 167.6zM128.6 183.5L133.5 183.4L133.7 188.8L128.7 188.9zM128.8 194.2L133.8 194.1L133.9 199.4L129 199.6z"/><path fill="#d4e5da" stroke="#d4e5da" d="M149.4 1.2L154.4 1.1L154.5 6.5L149.5 6.6zM159.4 1L164.4 0.9L164.5 6.2L159.5 6.3zM89.6 7.9L94.6 7.8L94.7 13.1L89.7 13.2zM154.5 6.5L159.5 6.3L159.6 11.7L154.7 11.8zM154.7 11.8L159.6 11.7L159.8 17L154.8 17.1zM174.6 11.4L179.6 11.3L179.7 16.6L174.7 16.7zM139.8 17.5L144.8 17.4L144.9 22.7L139.9 22.8zM149.8 17.3L154.8 17.1L154.9 22.5L149.9 22.6zM164.8 16.9L174.7 16.7L174.8 22L164.9 22.3zM85 24L90 23.9L90.1 29.3L85.1 29.4zM95 23.8L100 23.7L100.1 29L95.1 29.2zM154.9 22.5L169.9 22.2L170 27.5L155 27.8zM179.8 21.9L189.8 21.7L189.9 27.1L179.9 27.3zM135 28.3L140 28.2L140.1 33.5L135.2 33.6zM155 27.8L160 27.7L160.1 33.1L155.1 33.2zM179.9 27.3L189.9 27.1L190 32.4L180.1 32.6zM95.2 34.5L100.2 34.4L100.4 39.7L95.4 39.9zM175.1 32.7L185 32.5L185.2 37.9L175.2 38.1zM200 32.2L205 32.1L205.1 37.4L200.1 37.5zM120.3 39.3L125.3 39.2L125.4 44.5L120.4 44.6zM140.3 38.9L145.2 38.7L145.4 44.1L140.4 44.2zM180.2 38L195.1 37.6L195.2 43L180.3 43.3zM115.4 44.8L125.4 44.5L125.5 49.9L115.6 50.1zM180.3 43.3L190.2 43.1L190.3 48.4L180.4 48.7zM120.6 50L125.5 49.9L125.7 55.2L120.7 55.3zM130.5 49.8L135.5 49.7L135.6 55L130.6 55.1zM140.5 49.5L145.5 49.4L145.6 54.8L140.6 54.9zM180.4 48.7L185.4 48.5L185.5 53.9L180.5 54zM120.7 55.3L130.6 55.1L130.8 60.5L120.8 60.7zM120.8 60.7L125.8 60.6L125.9 65.9L120.9 66zM121 71.4L126 71.3L126.1 76.6L121.2 76.7zM126.1 76.6L136.1 76.4L136.2 81.7L126.3 82zM121.3 82.1L126.3 82L126.4 87.3L121.4 87.4zM210.9 80L215.9 79.9L216 85.3L211 85.4zM121.5 92.8L126.5 92.6L126.6 98L121.7 98.1zM121.7 98.1L126.6 98L126.8 103.3L121.8 103.5zM121.8 103.5L126.8 103.3L126.9 108.7L121.9 108.8zM121.9 108.8L126.9 108.7L127 114L122 114.1zM122 114.1L127 114L127.1 119.4L122.2 119.5zM132 113.9L136.9 113.8L137.1 119.1L132.1 119.3zM141.9 113.7L146.9 113.6L147 118.9L142 119zM122.2 119.5L127.1 119.4L127.2 124.7L122.3 124.8zM127.2 124.7L132.2 124.6L132.3 130L127.4 130.1zM122.4 130.2L127.4 130.1L127.5 135.4L122.5 135.5zM117.7 141L122.6 140.9L122.8 146.2L117.8 146.3zM127.6 140.8L132.6 140.6L132.7 146L127.7 146.1zM127.7 146.1L137.7 145.9L137.8 151.2L127.9 151.5zM113 151.8L117.9 151.7L118.1 157L113.1 157.2zM122.9 151.6L127.9 151.5L128 156.8L123 156.9zM108.1 157.3L118.1 157L118.2 162.4L108.3 162.6zM103.3 162.7L113.2 162.5L113.4 167.8L103.4 168.1zM128.1 162.1L143 161.8L143.1 167.1L128.2 167.5zM103.4 168.1L123.3 167.6L123.4 173L103.6 173.4zM128.2 167.5L133.2 167.4L133.3 172.7L128.3 172.8zM103.6 173.4L108.5 173.3L108.7 178.7L103.7 178.8zM113.5 173.2L123.4 173L123.5 178.3L113.6 178.5zM128.3 172.8L133.3 172.7L133.4 178.1L128.5 178.2zM148.2 172.4L158.1 172.1L158.2 177.5L148.3 177.7zM103.7 178.8L108.7 178.7L108.8 184L103.8 184.1zM113.6 178.5L123.5 178.3L123.6 183.6L113.7 183.9zM128.5 178.2L138.4 177.9L138.5 183.3L128.6 183.5zM24.6 186L29.6 185.9L29.7 191.3L24.8 191.4zM103.8 184.1L118.7 183.8L118.8 189.1L104 189.5zM133.5 183.4L143.4 183.2L143.6 188.5L133.7 188.8zM148.4 183.1L158.3 182.8L158.4 188.2L148.5 188.4zM79.2 190.1L84.2 189.9L84.3 195.3L79.3 195.4zM104 189.5L113.9 189.2L114 194.6L104.1 194.8zM123.8 189L153.5 188.3L153.6 193.6L123.9 194.3zM158.4 188.2L163.4 188L163.5 193.4L158.5 193.5zM89.2 195.2L94.2 195.1L94.3 200.4L89.4 200.5zM109 194.7L118.9 194.5L119.1 199.8L109.2 200zM138.7 194L148.6 193.7L148.7 199.1L138.8 199.3zM153.6 193.6L158.5 193.5L158.6 198.8L153.7 199zM94.3 200.4L99.3 200.3L99.4 204.7L94.4 204.8zM109.2 200L114.1 199.9L114.2 204.3L109.3 204.5zM119.1 199.8L153.7 199L153.8 203.4L119.2 204.2zM158.6 198.8L163.6 198.7L163.7 203.1L158.7 203.3z"/><path fill="#f8edae" stroke="#f8edae" d="M164.4 0.9L169.4 0.8L169.5 6.1L164.5 6.2zM184.4 0.5L194.4 0.2L194.5 5.6L184.5 5.8zM159.5 6.3L169.5 6.1L169.6 11.5L159.6 11.7zM159.6 11.7L164.6 11.6L164.8 16.9L159.8 17zM189.6 11L194.6 10.9L194.7 16.3L189.7 16.4zM184.7 16.5L204.7 16L204.8 21.4L184.8 21.8zM194.8 21.6L204.8 21.4L204.9 26.7L194.9 27zM204.9 26.7L209.9 26.6L210 32L205 32.1zM210.6 64L215.6 63.9L215.7 69.2L210.7 69.3zM206 85.5L211 85.4L211.1 90.7L206.1 90.8zM206.1 90.8L211.1 90.7L211.2 96.1L206.2 96.2zM3.3 133L8.2 132.8L8.4 138.2L3.4 138.3zM72.8 131.3L77.7 131.2L77.9 136.6L72.9 136.7zM3.4 138.3L13.3 138.1L13.5 143.4L3.6 143.7zM72.9 136.7L77.9 136.6L78 141.9L73 142zM68.1 142.2L73 142L73.2 147.4L68.2 147.5zM83 141.8L87.9 141.7L88 147L83.1 147.2zM68.2 147.5L73.2 147.4L73.3 152.7L68.3 152.9zM83.1 147.2L88 147L88.2 152.4L83.2 152.5zM68.3 152.9L83.2 152.5L83.4 157.9L68.5 158.2zM4 159.7L9 159.6L9.1 165L4.2 165.1zM68.5 158.2L83.4 157.9L83.5 163.2L68.6 163.6zM88.3 157.7L93.3 157.6L93.4 163L88.4 163.1zM4.2 165.1L9.1 165L9.3 170.3L4.3 170.4zM73.6 163.4L93.4 163L93.5 168.3L73.7 168.8zM24.2 170L29.1 169.8L29.3 175.2L24.3 175.3zM73.7 168.8L93.5 168.3L93.7 173.7L73.8 174.1zM19.4 175.4L24.3 175.3L24.5 180.7L19.5 180.8zM29.3 175.2L34.2 175.1L34.4 180.4L29.4 180.6zM68.9 174.3L93.7 173.7L93.8 179L69 179.6zM108.5 173.3L113.5 173.2L113.6 178.5L108.7 178.7zM34.4 180.4L39.3 180.3L39.5 185.7L34.5 185.8zM74 179.5L88.8 179.1L89 184.5L74.1 184.8zM29.6 185.9L39.5 185.7L39.6 191L29.7 191.3zM64.2 185.1L84 184.6L84.2 189.9L64.4 190.4zM74.3 190.2L79.2 190.1L79.3 195.4L74.4 195.5zM84.2 189.9L89.1 189.8L89.2 195.2L84.3 195.3zM84.3 195.3L89.2 195.2L89.4 200.5L84.4 200.6zM104.1 194.8L109 194.7L109.2 200L104.2 200.2zM84.4 200.6L89.4 200.5L89.5 204.9L84.5 205.1z"/><path fill="#eef1e0" stroke="#eef1e0" d="M169.4 0.8L174.4 0.7L174.5 6L169.5 6.1zM149.5 6.6L154.5 6.5L154.7 11.8L149.7 11.9zM169.5 6.1L179.5 5.9L179.6 11.3L169.6 11.5zM189.5 5.7L194.5 5.6L194.6 10.9L189.6 11zM169.6 11.5L174.6 11.4L174.7 16.7L169.7 16.8zM184.6 11.1L189.6 11L189.7 16.4L184.7 16.5zM154.8 17.1L164.8 16.9L164.9 22.3L154.9 22.5zM174.7 16.7L184.7 16.5L184.8 21.8L174.8 22zM90 23.9L95 23.8L95.1 29.2L90.1 29.3zM189.8 21.7L194.8 21.6L194.9 27L189.9 27.1zM175 27.4L179.9 27.3L180.1 32.6L175.1 32.7zM189.9 27.1L204.9 26.7L205 32.1L190 32.4zM135.2 33.6L140.1 33.5L140.3 38.9L135.3 39zM185 32.5L195 32.3L195.1 37.6L185.2 37.9zM125.5 49.9L130.5 49.8L130.6 55.1L125.7 55.2zM126.4 87.3L131.4 87.2L131.5 92.5L126.5 92.6zM122.3 124.8L127.2 124.7L127.4 130.1L122.4 130.2zM211.7 122.8L216.6 122.6L216.7 128L211.8 128.1zM112.9 146.5L117.8 146.3L117.9 151.7L113 151.8zM83.2 152.5L88.2 152.4L88.3 157.7L83.4 157.9zM137.8 151.2L142.7 151.1L142.9 156.4L137.9 156.6zM103.2 157.4L108.1 157.3L108.3 162.6L103.3 162.7zM123 156.9L128 156.8L128.1 162.1L123.1 162.3zM93.4 163L103.3 162.7L103.4 168.1L93.5 168.3zM113.2 162.5L118.2 162.4L118.3 167.7L113.4 167.8zM93.5 168.3L103.4 168.1L103.6 173.4L93.7 173.7zM138.1 167.3L143.1 167.1L143.2 172.5L138.3 172.6zM93.7 173.7L103.6 173.4L103.7 178.8L93.8 179zM143.2 172.5L148.2 172.4L148.3 177.7L143.3 177.8zM93.8 179L103.7 178.8L103.8 184.1L93.9 184.4zM148.3 177.7L153.2 177.6L153.3 182.9L148.4 183.1zM93.9 184.4L103.8 184.1L104 189.5L94.1 189.7zM123.6 183.6L128.6 183.5L128.7 188.9L123.8 189zM94.1 189.7L104 189.5L104.1 194.8L94.2 195.1zM113.9 189.2L118.8 189.1L118.9 194.5L114 194.6zM153.5 188.3L158.4 188.2L158.5 193.5L153.6 193.6zM99.1 194.9L104.1 194.8L104.2 200.2L99.3 200.3zM123.9 194.3L128.8 194.2L129 199.6L124 199.7zM99.3 200.3L109.2 200L109.3 204.5L99.4 204.7zM153.7 199L158.6 198.8L158.7 203.3L153.8 203.4z"/><path fill="#efdf94" stroke="#efdf94" d="M174.4 0.7L184.4 0.5L184.5 5.8L174.5 6zM194.4 0.2L209.4 -0.1L209.5 5.3L194.5 5.6zM179.5 5.9L189.5 5.7L189.6 11L179.6 11.3zM194.5 5.6L214.5 5.1L214.6 10.5L194.6 10.9zM179.6 11.3L184.6 11.1L184.7 16.5L179.7 16.6zM194.6 10.9L214.6 10.5L214.7 15.8L194.7 16.3zM204.7 16L209.7 15.9L209.8 21.3L204.8 21.4zM204.8 21.4L214.8 21.2L214.9 26.5L204.9 26.7zM209.9 26.6L214.9 26.5L215 31.9L210 32zM195 32.3L200 32.2L200.1 37.5L195.1 37.6zM210 32L215 31.9L215.1 37.2L210.1 37.3zM210.8 74.7L215.8 74.6L215.9 79.9L210.9 80zM211 85.4L216 85.3L216.1 90.6L211.1 90.7zM211.1 90.7L216.1 90.6L216.2 95.9L211.2 96.1zM211.2 96.1L216.2 95.9L216.3 101.3L211.3 101.4zM73 142L83 141.8L83.1 147.2L73.2 147.4zM73.2 147.4L83.1 147.2L83.2 152.5L73.3 152.7zM83.4 157.9L88.3 157.7L88.4 163.1L83.5 163.2zM24.3 175.3L29.3 175.2L29.4 180.6L24.5 180.7zM24.5 180.7L34.4 180.4L34.5 185.8L24.6 186zM69 179.6L74 179.5L74.1 184.8L69.2 185z"/><path fill="#e2cf74" stroke="#e2cf74" d="M209.4 -0.1L214.4 -0.2L214.5 5.1L209.5 5.3zM209.7 15.9L214.7 15.8L214.8 21.2L209.8 21.3zM69.3 190.3L74.3 190.2L74.4 195.5L69.4 195.7z"/><path fill="#84bdb6" stroke="#84bdb6" d="M150.3 44L155.3 43.9L155.4 49.2L150.5 49.3z"/><path fill="#98c5c0" stroke="#98c5c0" d="M160.7 59.8L165.6 59.7L165.8 65L160.8 65.1zM150.9 70.7L155.9 70.6L156 75.9L151 76zM146.8 108.2L151.7 108.1L151.8 113.5L146.9 113.6zM127.1 119.4L132.1 119.3L132.2 124.6L127.2 124.7zM132.8 151.3L137.8 151.2L137.9 156.6L132.9 156.7z"/><path fill="#94a61a" stroke="#94a61a" d="M211.8 128.1L216.7 128L216.8 133.3L211.9 133.4z"/></g><use href="#gl" fill="none" stroke="#b0b0b0" stroke-width="1.1" stroke-opacity="1"/><use href="#co" fill="none" stroke="#808080" stroke-width="1.35" stroke-linejoin="round"/></g></g><rect width="218.9" height="208.8" fill="none" stroke="#000" stroke-width="1.1"/></g><g font-size="13.89"><text x="479.25" y="92" text-anchor="middle" font-size="13.5">112.5°E</text><text x="485.3" y="328.7" text-anchor="middle" font-size="13.5">112.5°E</text><text x="541.75" y="92" text-anchor="middle" font-size="13.5">113°E</text><text x="547.15" y="328.7" text-anchor="middle" font-size="13.5">113°E</text><text x="604.25" y="92" text-anchor="middle" font-size="13.5">113.5°E</text><text x="609" y="328.7" text-anchor="middle" font-size="13.5">113.5°E</text><text x="666.75" y="92" text-anchor="middle" font-size="13.5">114°E</text><text x="670.85" y="328.7" text-anchor="middle" font-size="13.5">114°E</text><text x="471.9" y="126.1" text-anchor="end">21.6°S</text><text x="471.9" y="152.89" text-anchor="end">21.8°S</text><text x="471.9" y="179.67" text-anchor="end">22°S</text><text x="471.9" y="206.46" text-anchor="end">22.2°S</text><text x="471.9" y="233.24" text-anchor="end">22.4°S</text><text x="471.9" y="260.03" text-anchor="end">22.6°S</text><text x="471.9" y="286.82" text-anchor="end">22.8°S</text><text x="471.9" y="313.6" text-anchor="end">23°S</text></g><text x="588.05" y="72.6" font-size="16.67" text-anchor="middle">v [m/s]</text><linearGradient id="g1" x1="0" y1="1" x2="0" y2="0"><stop offset="0" stop-color="#11204d"/><stop offset="0.25" stop-color="#2e7fa0"/><stop offset="0.5" stop-color="#fffdcd"/><stop offset="0.75" stop-color="#a9a11e"/><stop offset="1" stop-color="#173d0e"/></linearGradient><rect x="711.5" y="182.6" width="2.45" height="49" fill="url(#g1)" stroke="#000" stroke-width="1.1"/><g font-size="13.89"><path d="M713.95 231.6h4.9" stroke="#000" stroke-width="1.1"/><text x="723.75" y="236.8">−1</text><path d="M713.95 207.1h4.9" stroke="#000" stroke-width="1.1"/><text x="723.75" y="212.3">0</text><path d="M713.95 182.6h4.9" stroke="#000" stroke-width="1.1"/><text x="723.75" y="187.8">1</text></g><g transform="translate(806.6 102.6)"><g clip-path="url(#cp)"><rect width="218.9" height="208.8" fill="#97b6e1"/><g transform="translate(0.5 0)"><use href="#ld" fill="#efefdb"/><use href="#ex" fill="#f7f7f7"/><g stroke-width="0.5" stroke-linejoin="miter"><path fill="#fbe5d8" stroke="#fbe5d8" d="M84.5 2.6L99.5 2.3L99.6 7.7L84.6 8zM104.5 2.2L109.4 2.1L109.6 7.4L104.6 7.5zM129.4 1.7L179.4 0.6L179.5 5.9L129.6 7zM194.4 0.2L204.4 0L204.5 5.4L194.5 5.6zM209.4 -0.1L214.4 -0.2L214.5 5.1L209.5 5.3zM84.6 8L94.6 7.8L94.7 13.1L84.7 13.3zM129.6 7L184.5 5.8L184.6 11.1L129.7 12.3zM194.5 5.6L214.5 5.1L214.6 10.5L194.6 10.9zM134.7 12.2L214.6 10.5L214.7 15.8L134.8 17.6zM84.9 18.7L89.9 18.6L90 23.9L85 24zM94.8 18.5L99.8 18.3L100 23.7L95 23.8zM134.8 17.6L169.7 16.8L169.9 22.2L134.9 22.9zM85 24L90 23.9L90.1 29.3L85.1 29.4zM95 23.8L100 23.7L100.1 29L95.1 29.2zM134.9 22.9L164.9 22.3L165 27.6L135 28.3zM130 28.4L160 27.7L160.1 33.1L130.2 33.7zM95.2 34.5L100.2 34.4L100.4 39.7L95.4 39.9zM130.2 33.7L150.1 33.3L150.2 38.6L130.3 39.1zM130.3 39.1L150.2 38.6L150.3 44L130.4 44.4zM130.4 44.4L155.3 43.9L155.4 49.2L130.5 49.8zM130.5 49.8L155.4 49.2L155.6 54.6L130.6 55.1zM130.6 55.1L155.6 54.6L155.7 59.9L130.8 60.5zM130.8 60.5L150.7 60L150.8 65.4L130.9 65.8zM130.9 65.8L150.8 65.4L150.9 70.7L131 71.2zM136 71L150.9 70.7L151 76L136.1 76.4zM136.1 76.4L151 76L151.2 81.4L136.2 81.7zM136.2 81.7L151.2 81.4L151.3 86.7L136.3 87.1zM136.3 87.1L151.3 86.7L151.4 92.1L136.5 92.4zM136.5 92.4L151.4 92.1L151.5 97.4L136.6 97.8zM136.6 97.8L146.5 97.5L146.6 102.9L136.7 103.1zM131.7 103.2L141.7 103L141.8 108.3L131.8 108.6zM131.8 108.6L141.8 108.3L141.9 113.7L132 113.9zM132 113.9L141.9 113.7L142 119L132.1 119.3zM132.1 119.3L142 119L142.1 124.4L132.2 124.6zM132.2 124.6L137.2 124.5L137.3 129.8L132.3 130zM3.3 133L8.2 132.8L8.4 138.2L3.4 138.3zM72.8 131.3L77.7 131.2L77.9 136.6L72.9 136.7zM127.4 130.1L132.3 130L132.5 135.3L127.5 135.4zM3.4 138.3L13.3 138.1L13.5 143.4L3.6 143.7zM72.9 136.7L77.9 136.6L78 141.9L73 142zM122.5 135.5L132.5 135.3L132.6 140.6L122.6 140.9zM68.1 142.2L73 142L73.2 147.4L68.2 147.5zM122.6 140.9L127.6 140.8L127.7 146.1L122.8 146.2zM142.5 140.4L147.5 140.3L147.6 145.6L142.6 145.8zM117.8 146.3L122.8 146.2L122.9 151.6L117.9 151.7zM117.9 151.7L122.9 151.6L123 156.9L118.1 157zM68.5 158.2L73.4 158.1L73.6 163.4L68.6 163.6zM108.1 157.3L118.1 157L118.2 162.4L108.3 162.6zM73.6 163.4L78.5 163.3L78.7 168.7L73.7 168.8zM98.4 162.9L113.2 162.5L113.4 167.8L98.5 168.2zM98.5 168.2L103.4 168.1L103.6 173.4L98.6 173.5zM108.4 168L113.4 167.8L113.5 173.2L108.5 173.3zM68.9 174.3L73.8 174.1L74 179.5L69 179.6zM84.3 195.3L89.2 195.2L89.4 200.5L84.4 200.6z"/><path fill="#f9efe9" stroke="#f9efe9" d="M179.4 0.6L194.4 0.2L194.5 5.6L179.5 5.9zM204.4 0L209.4 -0.1L209.5 5.3L204.5 5.4zM184.5 5.8L194.5 5.6L194.6 10.9L184.6 11.1zM129.8 17.7L134.8 17.6L134.9 22.9L129.9 23zM90 23.9L95 23.8L95.1 29.2L90.1 29.3zM124.9 23.1L134.9 22.9L135 28.3L125 28.5zM120.1 28.6L130 28.4L130.2 33.7L120.2 33.9zM120.2 33.9L130.2 33.7L130.3 39.1L120.3 39.3zM120.3 39.3L130.3 39.1L130.4 44.4L120.4 44.6zM125.4 44.5L130.4 44.4L130.5 49.8L125.5 49.9zM120.6 50L130.5 49.8L130.6 55.1L120.7 55.3zM120.7 55.3L130.6 55.1L130.8 60.5L120.8 60.7zM120.8 60.7L130.8 60.5L130.9 65.8L120.9 66zM125.9 65.9L130.9 65.8L131 71.2L126 71.3zM126 71.3L136 71L136.1 76.4L126.1 76.6zM126.1 76.6L136.1 76.4L136.2 81.7L126.3 82zM131.2 81.8L136.2 81.7L136.3 87.1L131.4 87.2zM131.4 87.2L136.3 87.1L136.5 92.4L131.5 92.5zM131.5 92.5L136.5 92.4L136.6 97.8L131.6 97.9zM131.6 97.9L136.6 97.8L136.7 103.1L131.7 103.2zM126.8 103.3L131.7 103.2L131.8 108.6L126.9 108.7zM126.9 108.7L131.8 108.6L132 113.9L127 114zM127 114L132 113.9L132.1 119.3L127.1 119.4zM127.1 119.4L132.1 119.3L132.2 124.6L127.2 124.7zM122.3 124.8L132.2 124.6L132.3 130L122.4 130.2zM122.4 130.2L127.4 130.1L127.5 135.4L122.5 135.5zM117.7 141L122.6 140.9L122.8 146.2L117.8 146.3zM112.9 146.5L117.8 146.3L117.9 151.7L113 151.8zM113 151.8L117.9 151.7L118.1 157L113.1 157.2zM103.2 157.4L108.1 157.3L108.3 162.6L103.3 162.7zM24.6 186L39.5 185.7L39.6 191L24.8 191.4z"/><path fill="#fddbc7" stroke="#fddbc7" d="M169.7 16.8L214.7 15.8L214.8 21.2L169.9 22.2zM164.9 22.3L214.8 21.2L214.9 26.5L165 27.6zM160 27.7L184.9 27.2L185 32.5L160.1 33.1zM194.9 27L209.9 26.6L210 32L195 32.3zM150.1 33.3L180.1 32.6L180.2 38L150.2 38.6zM150.2 38.6L180.2 38L180.3 43.3L150.3 44zM155.3 43.9L175.3 43.4L175.4 48.8L155.4 49.2zM155.4 49.2L170.4 48.9L170.5 54.2L155.6 54.6zM155.6 54.6L165.5 54.3L165.6 59.7L155.7 59.9zM150.7 60L160.7 59.8L160.8 65.1L150.8 65.4zM150.8 65.4L160.8 65.1L160.9 70.5L150.9 70.7zM150.9 70.7L160.9 70.5L161 75.8L151 76zM151 76L161 75.8L161.1 81.2L151.2 81.4zM151.2 81.4L161.1 81.2L161.2 86.5L151.3 86.7zM151.3 86.7L156.2 86.6L156.4 92L151.4 92.1zM151.4 92.1L156.4 92L156.5 97.3L151.5 97.4zM146.5 97.5L156.5 97.3L156.6 102.7L146.6 102.9zM141.7 103L151.6 102.8L151.7 108.1L141.8 108.3zM141.8 108.3L151.7 108.1L151.8 113.5L141.9 113.7zM141.9 113.7L151.8 113.5L152 118.8L142 119zM142 119L152 118.8L152.1 124.1L142.1 124.4zM137.2 124.5L152.1 124.1L152.2 129.5L137.3 129.8zM132.3 130L142.3 129.7L142.4 135.1L132.5 135.3zM132.5 135.3L137.4 135.2L137.5 140.5L132.6 140.6zM73 142L78 141.9L78.1 147.3L73.2 147.4zM127.6 140.8L132.6 140.6L132.7 146L127.7 146.1zM68.2 147.5L78.1 147.3L78.3 152.6L68.3 152.9zM122.8 146.2L132.7 146L132.8 151.3L122.9 151.6zM68.3 152.9L83.2 152.5L83.4 157.9L68.5 158.2zM122.9 151.6L132.8 151.3L132.9 156.7L123 156.9zM73.4 158.1L93.3 157.6L93.4 163L73.6 163.4zM118.1 157L132.9 156.7L133.1 162L118.2 162.4zM78.5 163.3L83.5 163.2L83.6 168.6L78.7 168.7zM93.4 163L98.4 162.9L98.5 168.2L93.5 168.3zM113.2 162.5L123.1 162.3L123.3 167.6L113.4 167.8zM128.1 162.1L133.1 162L133.2 167.4L128.2 167.5zM73.7 168.8L83.6 168.6L83.8 173.9L73.8 174.1zM93.5 168.3L98.5 168.2L98.6 173.5L93.7 173.7zM103.4 168.1L108.4 168L108.5 173.3L103.6 173.4zM113.4 167.8L123.3 167.6L123.4 173L113.5 173.2zM128.2 167.5L138.1 167.3L138.3 172.6L128.3 172.8zM73.8 174.1L83.8 173.9L83.9 179.2L74 179.5zM88.7 173.8L143.2 172.5L143.3 177.8L88.8 179.1zM69 179.6L138.4 177.9L138.5 183.3L69.2 185zM143.3 177.8L148.3 177.7L148.4 183.1L143.4 183.2zM79.1 184.7L148.4 183.1L148.5 188.4L79.2 190.1zM69.3 190.3L153.5 188.3L153.6 193.6L69.4 195.7zM89.2 195.2L153.6 193.6L153.7 199L89.4 200.5zM84.4 200.6L94.3 200.4L94.4 204.8L84.5 205.1zM99.3 200.3L148.7 199.1L148.8 203.5L99.4 204.7z"/><path fill="#fac9b0" stroke="#fac9b0" d="M184.9 27.2L194.9 27L195 32.3L185 32.5zM209.9 26.6L214.9 26.5L215 31.9L210 32zM180.1 32.6L205 32.1L205.1 37.4L180.2 38zM180.2 38L185.2 37.9L185.3 43.2L180.3 43.3zM190.1 37.7L195.1 37.6L195.2 43L190.2 43.1zM175.3 43.4L185.3 43.2L185.4 48.5L175.4 48.8zM170.4 48.9L180.4 48.7L180.5 54L170.5 54.2zM165.5 54.3L175.5 54.1L175.6 59.5L165.6 59.7zM160.7 59.8L170.6 59.6L170.7 64.9L160.8 65.1zM160.8 65.1L170.7 64.9L170.8 70.2L160.9 70.5zM160.9 70.5L170.8 70.2L171 75.6L161 75.8zM161 75.8L166 75.7L166.1 81L161.1 81.2zM161.1 81.2L166.1 81L166.2 86.4L161.2 86.5zM156.2 86.6L166.2 86.4L166.3 91.7L156.4 92zM156.4 92L166.3 91.7L166.4 97.1L156.5 97.3zM156.5 97.3L166.4 97.1L166.5 102.4L156.6 102.7zM151.6 102.8L156.6 102.7L156.7 108L151.7 108.1zM151.7 108.1L156.7 108L156.8 113.3L151.8 113.5zM151.8 113.5L161.8 113.2L161.9 118.6L152 118.8zM152 118.8L156.9 118.7L157 124L152.1 124.1zM142.3 129.7L152.2 129.5L152.3 134.8L142.4 135.1zM137.4 135.2L147.3 135L147.5 140.3L137.5 140.5zM78 141.9L87.9 141.7L88 147L78.1 147.3zM132.6 140.6L137.5 140.5L137.7 145.9L132.7 146zM78.1 147.3L88 147L88.2 152.4L78.3 152.6zM132.7 146L137.7 145.9L137.8 151.2L132.8 151.3zM83.2 152.5L93.1 152.3L93.3 157.6L83.4 157.9zM132.8 151.3L137.8 151.2L137.9 156.6L132.9 156.7zM132.9 156.7L137.9 156.6L138 161.9L133.1 162zM83.5 163.2L93.4 163L93.5 168.3L83.6 168.6zM123.1 162.3L128.1 162.1L128.2 167.5L123.3 167.6zM133.1 162L143 161.8L143.1 167.1L133.2 167.4zM83.6 168.6L93.5 168.3L93.7 173.7L83.8 173.9zM123.3 167.6L128.2 167.5L128.3 172.8L123.4 173zM138.1 167.3L148 167L148.2 172.4L138.3 172.6zM83.8 173.9L88.7 173.8L88.8 179.1L83.9 179.2zM143.2 172.5L148.2 172.4L148.3 177.7L143.3 177.8zM138.4 177.9L143.3 177.8L143.4 183.2L138.5 183.3zM69.2 185L79.1 184.7L79.2 190.1L69.3 190.3zM148.4 183.1L158.3 182.8L158.4 188.2L148.5 188.4zM153.5 188.3L158.4 188.2L158.5 193.5L153.6 193.6zM153.6 193.6L158.5 193.5L158.6 198.8L153.7 199zM94.3 200.4L99.3 200.3L99.4 204.7L94.4 204.8zM148.7 199.1L158.6 198.8L158.7 203.3L148.8 203.5z"/><path fill="#f6b596" stroke="#f6b596" d="M210 32L215 31.9L215.1 37.2L210.1 37.3zM185.2 37.9L190.1 37.7L190.2 43.1L185.3 43.2zM185.3 43.2L190.2 43.1L190.3 48.4L185.4 48.5zM180.4 48.7L185.4 48.5L185.5 53.9L180.5 54zM175.5 54.1L180.5 54L180.6 59.3L175.6 59.5zM170.6 59.6L175.6 59.5L175.7 64.8L170.7 64.9zM170.7 64.9L175.7 64.8L175.8 70.1L170.8 70.2zM170.8 70.2L175.8 70.1L175.9 75.5L171 75.6zM166 75.7L171 75.6L171.1 80.9L166.1 81zM166.1 81L171.1 80.9L171.2 86.3L166.2 86.4zM156.6 102.7L161.6 102.5L161.7 107.9L156.7 108zM156.7 108L161.7 107.9L161.8 113.2L156.8 113.3zM137.5 140.5L142.5 140.4L142.6 145.8L137.7 145.9zM137.7 145.9L142.6 145.8L142.7 151.1L137.8 151.2zM137.8 151.2L142.7 151.1L142.9 156.4L137.9 156.6zM137.9 156.6L147.8 156.3L147.9 161.7L138 161.9zM148.2 172.4L153.1 172.2L153.2 177.6L148.3 177.7zM148.3 177.7L153.2 177.6L153.3 182.9L148.4 183.1zM158.4 188.2L163.4 188L163.5 193.4L158.5 193.5zM158.5 193.5L163.5 193.4L163.6 198.7L158.6 198.8zM158.6 198.8L163.6 198.7L163.7 203.1L158.7 203.3z"/><path fill="#eff4f7" stroke="#eff4f7" d="M115.3 39.4L120.3 39.3L120.4 44.6L115.4 44.8zM115.4 44.8L125.4 44.5L125.5 49.9L115.6 50.1zM120.9 66L125.9 65.9L126 71.3L121 71.4zM121 71.4L126 71.3L126.1 76.6L121.2 76.7zM126.3 82L131.2 81.8L131.4 87.2L126.4 87.3zM126.4 87.3L131.4 87.2L131.5 92.5L126.5 92.6zM126.5 92.6L131.5 92.5L131.6 97.9L126.6 98zM126.6 98L131.6 97.9L131.7 103.2L126.8 103.3zM122.2 119.5L127.1 119.4L127.2 124.7L122.3 124.8zM4 159.7L9 159.6L9.1 165L4.2 165.1zM4.2 165.1L9.1 165L9.3 170.3L4.3 170.4zM24.5 180.7L39.3 180.3L39.5 185.7L24.6 186z"/><path fill="#f4a582" stroke="#f4a582" d="M210.6 64L215.6 63.9L215.7 69.2L210.7 69.3zM210.7 69.3L215.7 69.2L215.8 74.6L210.8 74.7zM210.8 74.7L215.8 74.6L215.9 79.9L210.9 80zM210.9 80L215.9 79.9L216 85.3L211 85.4zM153.1 172.2L158.1 172.1L158.2 177.5L153.2 177.6zM153.2 177.6L158.2 177.5L158.3 182.8L153.3 182.9zM64.2 185.1L69.2 185L69.3 190.3L64.4 190.4z"/><path fill="#d6e7f1" stroke="#d6e7f1" d="M121.3 82.1L126.3 82L126.4 87.3L121.4 87.4zM121.4 87.4L126.4 87.3L126.5 92.6L121.5 92.8zM121.5 92.8L126.5 92.6L126.6 98L121.7 98.1zM24.2 170L29.1 169.8L29.3 175.2L24.3 175.3zM24.3 175.3L29.3 175.2L29.4 180.6L24.5 180.7z"/><path fill="#e8896c" stroke="#e8896c" d="M206 85.5L216 85.3L216.1 90.6L206.1 90.8zM206.1 90.8L216.1 90.6L216.2 95.9L206.2 96.2z"/><path fill="#e4eef5" stroke="#e4eef5" d="M121.7 98.1L126.6 98L126.8 103.3L121.8 103.5zM121.8 103.5L126.8 103.3L126.9 108.7L121.9 108.8zM121.9 108.8L126.9 108.7L127 114L122 114.1zM122 114.1L127 114L127.1 119.4L122.2 119.5zM19.4 175.4L24.3 175.3L24.5 180.7L19.5 180.8zM29.3 175.2L34.2 175.1L34.4 180.4L29.4 180.6z"/><path fill="#df735c" stroke="#df735c" d="M211.2 96.1L216.2 95.9L216.3 101.3L211.3 101.4z"/><path fill="#67001f" stroke="#67001f" d="M211.7 122.8L216.6 122.6L216.7 128L211.8 128.1zM211.8 128.1L216.7 128L216.8 133.3L211.9 133.4z"/></g><use href="#gl" fill="none" stroke="#b0b0b0" stroke-width="1.1" stroke-opacity="1"/><use href="#co" fill="none" stroke="#808080" stroke-width="1.35" stroke-linejoin="round"/></g></g><rect width="218.9" height="208.8" fill="none" stroke="#000" stroke-width="1.1"/></g><g font-size="13.89"><text x="807.25" y="92" text-anchor="middle" font-size="13.5">112.5°E</text><text x="813.3" y="328.7" text-anchor="middle" font-size="13.5">112.5°E</text><text x="869.75" y="92" text-anchor="middle" font-size="13.5">113°E</text><text x="875.15" y="328.7" text-anchor="middle" font-size="13.5">113°E</text><text x="932.25" y="92" text-anchor="middle" font-size="13.5">113.5°E</text><text x="937" y="328.7" text-anchor="middle" font-size="13.5">113.5°E</text><text x="994.75" y="92" text-anchor="middle" font-size="13.5">114°E</text><text x="998.85" y="328.7" text-anchor="middle" font-size="13.5">114°E</text><text x="799.7" y="126.1" text-anchor="end">21.6°S</text><text x="799.7" y="152.89" text-anchor="end">21.8°S</text><text x="799.7" y="179.67" text-anchor="end">22°S</text><text x="799.7" y="206.46" text-anchor="end">22.2°S</text><text x="799.7" y="233.24" text-anchor="end">22.4°S</text><text x="799.7" y="260.03" text-anchor="end">22.6°S</text><text x="799.7" y="286.82" text-anchor="end">22.8°S</text><text x="799.7" y="313.6" text-anchor="end">23°S</text></g><text x="916.05" y="72.6" font-size="16.67" text-anchor="middle">q [K hr <tspan dy="-6" font-size="11.67">−1</tspan><tspan dy="6">]</tspan></text><linearGradient id="g2" x1="0" y1="1" x2="0" y2="0"><stop offset="0" stop-color="#181c43"/><stop offset="0.25" stop-color="#3e8dc0"/><stop offset="0.5" stop-color="#f1eceb"/><stop offset="0.75" stop-color="#c8574a"/><stop offset="1" stop-color="#3c0912"/></linearGradient><rect x="1039.5" y="182.6" width="2.45" height="49" fill="url(#g2)" stroke="#000" stroke-width="1.1"/><g font-size="13.89"><path d="M1041.95 223.03h4.9" stroke="#000" stroke-width="1.1"/><text x="1051.75" y="228.22">−0.25</text><path d="M1041.95 207.1h4.9" stroke="#000" stroke-width="1.1"/><text x="1051.75" y="212.3">0.00</text><path d="M1041.95 191.18h4.9" stroke="#000" stroke-width="1.1"/><text x="1051.75" y="196.38">0.25</text></g><g transform="translate(150.6 396.6)"><g clip-path="url(#cp)"><rect width="218.9" height="208.8" fill="#97b6e1"/><g transform="translate(0 0)"><use href="#ld" fill="#efefdb"/><use href="#ex" fill="#e9f6ab"/><g stroke-width="0.5" stroke-linejoin="miter"><path fill="#cbb05d" stroke="#cbb05d" d="M84.5 2.6L99.5 2.3L99.6 7.7L84.6 8zM104.5 2.2L109.4 2.1L109.6 7.4L104.6 7.5zM129.4 1.7L134.4 1.5L134.6 6.9L129.6 7zM174.4 0.7L214.4 -0.2L214.5 5.1L174.5 6zM84.6 8L94.6 7.8L94.7 13.1L84.7 13.3zM129.6 7L134.6 6.9L134.7 12.2L129.7 12.3zM149.5 6.6L159.5 6.3L159.6 11.7L149.7 11.9zM169.5 6.1L214.5 5.1L214.6 10.5L169.6 11.5zM149.7 11.9L159.6 11.7L159.8 17L149.8 17.3zM169.6 11.5L189.6 11L189.7 16.4L169.7 16.8zM204.6 10.7L214.6 10.5L214.7 15.8L204.7 16zM84.9 18.7L89.9 18.6L90 23.9L85 24zM94.8 18.5L99.8 18.3L100 23.7L95 23.8zM129.8 17.7L134.8 17.6L134.9 22.9L129.9 23zM169.7 16.8L189.7 16.4L189.8 21.7L169.9 22.2zM204.7 16L214.7 15.8L214.8 21.2L204.8 21.4zM85 24L100 23.7L100.1 29L85.1 29.4zM134.9 22.9L144.9 22.7L145 28.1L135 28.3zM169.9 22.2L214.8 21.2L214.9 26.5L170 27.5zM120.1 28.6L125 28.5L125.2 33.8L120.2 33.9zM170 27.5L214.9 26.5L215 31.9L170.1 32.8zM95.2 34.5L100.2 34.4L100.4 39.7L95.4 39.9zM120.2 33.9L125.2 33.8L125.3 39.2L120.3 39.3zM170.1 32.8L205 32.1L205.1 37.4L170.2 38.2zM210 32L215 31.9L215.1 37.2L210.1 37.3zM115.3 39.4L125.3 39.2L125.4 44.5L115.4 44.8zM155.2 38.5L195.1 37.6L195.2 43L155.3 43.9zM115.4 44.8L125.4 44.5L125.5 49.9L115.6 50.1zM155.3 43.9L190.2 43.1L190.3 48.4L155.4 49.2zM120.6 50L135.5 49.7L135.6 55L120.7 55.3zM170.4 48.9L185.4 48.5L185.5 53.9L170.5 54.2zM120.7 55.3L135.6 55L135.7 60.3L120.8 60.7zM170.5 54.2L180.5 54L180.6 59.3L170.6 59.6zM120.8 60.7L135.7 60.3L135.9 65.7L120.9 66zM155.7 59.9L175.6 59.5L175.7 64.8L155.8 65.2zM120.9 66L135.9 65.7L136 71L121 71.4zM155.8 65.2L175.7 64.8L175.8 70.1L155.9 70.6zM210.6 64L215.6 63.9L215.7 69.2L210.7 69.3zM121 71.4L126 71.3L126.1 76.6L121.2 76.7zM145.9 70.8L175.8 70.1L175.9 75.5L146.1 76.2zM210.7 69.3L215.7 69.2L215.8 74.6L210.8 74.7zM146.1 76.2L171 75.6L171.1 80.9L146.2 81.5zM210.8 74.7L215.8 74.6L215.9 79.9L210.9 80zM146.2 81.5L171.1 80.9L171.2 86.3L146.3 86.8zM210.9 80L215.9 79.9L216 85.3L211 85.4zM146.3 86.8L166.2 86.4L166.3 91.7L146.4 92.2zM206 85.5L216 85.3L216.1 90.6L206.1 90.8zM146.4 92.2L166.3 91.7L166.4 97.1L146.5 97.5zM206.1 90.8L216.1 90.6L216.2 95.9L206.2 96.2zM136.6 97.8L161.4 97.2L161.6 102.5L136.7 103.1zM211.2 96.1L216.2 95.9L216.3 101.3L211.3 101.4zM136.7 103.1L161.6 102.5L161.7 107.9L136.8 108.5zM136.8 108.5L161.7 107.9L161.8 113.2L136.9 113.8zM136.9 113.8L156.8 113.3L156.9 118.7L137.1 119.1zM127.1 119.4L156.9 118.7L157 124L127.2 124.7zM122.3 124.8L132.2 124.6L132.3 130L122.4 130.2zM142.1 124.4L152.1 124.1L152.2 129.5L142.3 129.7zM211.7 122.8L216.6 122.6L216.7 128L211.8 128.1zM3.3 133L8.2 132.8L8.4 138.2L3.4 138.3zM72.8 131.3L77.7 131.2L77.9 136.6L72.9 136.7zM122.4 130.2L132.3 130L132.5 135.3L122.5 135.5zM142.3 129.7L152.2 129.5L152.3 134.8L142.4 135.1zM211.8 128.1L216.7 128L216.8 133.3L211.9 133.4zM3.4 138.3L13.3 138.1L13.5 143.4L3.6 143.7zM72.9 136.7L77.9 136.6L78 141.9L73 142zM122.5 135.5L132.5 135.3L132.6 140.6L122.6 140.9zM142.4 135.1L147.3 135L147.5 140.3L142.5 140.4zM68.1 142.2L87.9 141.7L88 147L68.2 147.5zM117.7 141L137.5 140.5L137.7 145.9L117.8 146.3zM142.5 140.4L147.5 140.3L147.6 145.6L142.6 145.8zM68.2 147.5L88 147L88.2 152.4L68.3 152.9zM112.9 146.5L137.7 145.9L137.8 151.2L113 151.8zM68.3 152.9L93.1 152.3L93.3 157.6L68.5 158.2zM122.9 151.6L142.7 151.1L142.9 156.4L123 156.9zM4 159.7L9 159.6L9.1 165L4.2 165.1zM68.5 158.2L93.3 157.6L93.4 163L68.6 163.6zM103.2 157.4L113.1 157.2L113.2 162.5L103.3 162.7zM123 156.9L142.9 156.4L143 161.8L123.1 162.3zM4.2 165.1L9.1 165L9.3 170.3L4.3 170.4zM73.6 163.4L83.5 163.2L83.6 168.6L73.7 168.8zM123.1 162.3L143 161.8L143.1 167.1L123.3 167.6zM24.2 170L29.1 169.8L29.3 175.2L24.3 175.3zM73.7 168.8L83.6 168.6L83.8 173.9L73.8 174.1zM123.3 167.6L148 167L148.2 172.4L123.4 173zM19.4 175.4L34.2 175.1L34.4 180.4L19.5 180.8zM68.9 174.3L83.8 173.9L83.9 179.2L69 179.6zM93.7 173.7L103.6 173.4L103.7 178.8L93.8 179zM118.4 173.1L158.1 172.1L158.2 177.5L118.6 178.4zM24.5 180.7L39.3 180.3L39.5 185.7L24.6 186zM69 179.6L74 179.5L74.1 184.8L69.2 185zM93.8 179L103.7 178.8L103.8 184.1L93.9 184.4zM118.6 178.4L158.2 177.5L158.3 182.8L118.7 183.8zM24.6 186L39.5 185.7L39.6 191L24.8 191.4zM64.2 185.1L74.1 184.8L74.3 190.2L64.4 190.4zM118.7 183.8L158.3 182.8L158.4 188.2L118.8 189.1zM69.3 190.3L74.3 190.2L74.4 195.5L69.4 195.7zM118.8 189.1L133.7 188.8L133.8 194.1L118.9 194.5zM143.6 188.5L163.4 188L163.5 193.4L143.7 193.9zM118.9 194.5L133.8 194.1L133.9 199.4L119.1 199.8zM143.7 193.9L163.5 193.4L163.6 198.7L143.8 199.2zM84.4 200.6L163.6 198.7L163.7 203.1L84.5 205.1z"/><path fill="#d2bb68" stroke="#d2bb68" d="M134.4 1.5L164.4 0.9L164.5 6.2L134.6 6.9zM134.6 6.9L149.5 6.6L149.7 11.9L134.7 12.2zM159.5 6.3L169.5 6.1L169.6 11.5L159.6 11.7zM134.7 12.2L149.7 11.9L149.8 17.3L134.8 17.6zM159.6 11.7L169.6 11.5L169.7 16.8L159.8 17zM189.6 11L204.6 10.7L204.7 16L189.7 16.4zM134.8 17.6L159.8 17L159.9 22.4L134.9 22.9zM164.8 16.9L169.7 16.8L169.9 22.2L164.9 22.3zM189.7 16.4L204.7 16L204.8 21.4L189.8 21.7zM124.9 23.1L134.9 22.9L135 28.3L125 28.5zM144.9 22.7L169.9 22.2L170 27.5L145 28.1zM125 28.5L145 28.1L145.1 33.4L125.2 33.8zM155 27.8L170 27.5L170.1 32.8L155.1 33.2zM125.2 33.8L145.1 33.4L145.2 38.7L125.3 39.2zM155.1 33.2L170.1 32.8L170.2 38.2L155.2 38.5zM125.3 39.2L155.2 38.5L155.3 43.9L125.4 44.5zM125.4 44.5L155.3 43.9L155.4 49.2L125.5 49.9zM145.5 49.4L170.4 48.9L170.5 54.2L145.6 54.8zM145.6 54.8L170.5 54.2L170.6 59.6L145.7 60.1zM135.7 60.3L155.7 59.9L155.8 65.2L135.9 65.7zM135.9 65.7L155.8 65.2L155.9 70.6L136 71zM126 71.3L136 71L136.1 76.4L126.1 76.6zM141 70.9L145.9 70.8L146.1 76.2L141.1 76.3zM126.1 76.6L136.1 76.4L136.2 81.7L126.3 82zM141.1 76.3L146.1 76.2L146.2 81.5L141.2 81.6zM121.3 82.1L146.2 81.5L146.3 86.8L121.4 87.4zM121.4 87.4L146.3 86.8L146.4 92.2L121.5 92.8zM121.5 92.8L146.4 92.2L146.5 97.5L121.7 98.1zM121.7 98.1L136.6 97.8L136.7 103.1L121.8 103.5zM121.8 103.5L136.7 103.1L136.8 108.5L121.9 108.8zM121.9 108.8L136.8 108.5L136.9 113.8L122 114.1zM122 114.1L136.9 113.8L137.1 119.1L122.2 119.5zM122.2 119.5L127.1 119.4L127.2 124.7L122.3 124.8zM132.2 124.6L142.1 124.4L142.3 129.7L132.3 130zM132.3 130L142.3 129.7L142.4 135.1L132.5 135.3zM132.5 135.3L142.4 135.1L142.5 140.4L132.6 140.6zM113 151.8L122.9 151.6L123 156.9L113.1 157.2zM113.1 157.2L123 156.9L123.1 162.3L113.2 162.5zM83.5 163.2L123.1 162.3L123.3 167.6L83.6 168.6zM83.6 168.6L123.3 167.6L123.4 173L83.8 173.9zM83.8 173.9L93.7 173.7L93.8 179L83.9 179.2zM103.6 173.4L118.4 173.1L118.6 178.4L103.7 178.8zM74 179.5L93.8 179L93.9 184.4L74.1 184.8zM103.7 178.8L108.7 178.7L108.8 184L103.8 184.1zM74.1 184.8L108.8 184L108.9 189.4L74.3 190.2zM74.3 190.2L108.9 189.4L109 194.7L74.4 195.5zM84.3 195.3L118.9 194.5L119.1 199.8L84.4 200.6z"/><path fill="#d9c976" stroke="#d9c976" d="M164.4 0.9L174.4 0.7L174.5 6L164.5 6.2zM159.8 17L164.8 16.9L164.9 22.3L159.9 22.4zM145 28.1L155 27.8L155.1 33.2L145.1 33.4zM145.1 33.4L155.1 33.2L155.2 38.5L145.2 38.7zM135.5 49.7L145.5 49.4L145.6 54.8L135.6 55zM135.6 55L145.6 54.8L145.7 60.1L135.7 60.3zM136 71L141 70.9L141.1 76.3L136.1 76.4zM136.1 76.4L141.1 76.3L141.2 81.6L136.2 81.7zM161.4 97.2L166.4 97.1L166.5 102.4L161.6 102.5zM156.8 113.3L161.8 113.2L161.9 118.6L156.9 118.7zM137.5 140.5L142.5 140.4L142.6 145.8L137.7 145.9zM137.7 145.9L142.6 145.8L142.7 151.1L137.8 151.2zM142.9 156.4L147.8 156.3L147.9 161.7L143 161.8zM108.7 178.7L118.6 178.4L118.7 183.8L108.8 184zM108.8 184L118.7 183.8L118.8 189.1L108.9 189.4zM108.9 189.4L118.8 189.1L118.9 194.5L109 194.7zM133.7 188.8L143.6 188.5L143.7 193.9L133.8 194.1zM133.8 194.1L143.7 193.9L143.8 199.2L133.9 199.4z"/></g><use href="#gl" fill="none" stroke="#b0b0b0" stroke-width="1.1" stroke-opacity="1"/><use href="#co" fill="none" stroke="#808080" stroke-width="1.35" stroke-linejoin="round"/></g></g><rect width="218.9" height="208.8" fill="none" stroke="#000" stroke-width="1.1"/></g><g font-size="13.89"><text x="151.25" y="386" text-anchor="middle" font-size="13.5">112.5°E</text><text x="157.3" y="622.7" text-anchor="middle" font-size="13.5">112.5°E</text><text x="213.75" y="386" text-anchor="middle" font-size="13.5">113°E</text><text x="219.15" y="622.7" text-anchor="middle" font-size="13.5">113°E</text><text x="276.25" y="386" text-anchor="middle" font-size="13.5">113.5°E</text><text x="281" y="622.7" text-anchor="middle" font-size="13.5">113.5°E</text><text x="338.75" y="386" text-anchor="middle" font-size="13.5">114°E</text><text x="342.85" y="622.7" text-anchor="middle" font-size="13.5">114°E</text><text x="143.6" y="420.1" text-anchor="end">21.6°S</text><text x="143.6" y="446.89" text-anchor="end">21.8°S</text><text x="143.6" y="473.67" text-anchor="end">22°S</text><text x="143.6" y="500.46" text-anchor="end">22.2°S</text><text x="143.6" y="527.24" text-anchor="end">22.4°S</text><text x="143.6" y="554.03" text-anchor="end">22.6°S</text><text x="143.6" y="580.82" text-anchor="end">22.8°S</text><text x="143.6" y="607.6" text-anchor="end">23°S</text></g><text x="260.05" y="366.6" font-size="16.67" text-anchor="middle">u std. [m/s]</text><linearGradient id="g3" x1="0" y1="1" x2="0" y2="0"><stop offset="0" stop-color="#e9f6ab"/><stop offset="0.33" stop-color="#c3a04c"/><stop offset="0.66" stop-color="#85603c"/><stop offset="1" stop-color="#221f1b"/></linearGradient><rect x="383.5" y="476.6" width="2.45" height="49" fill="url(#g3)" stroke="#000" stroke-width="1.1"/><g font-size="13.89"><path d="M385.95 525.6h4.9" stroke="#000" stroke-width="1.1"/><text x="395.75" y="530.8">0.0</text><path d="M385.95 476.6h4.9" stroke="#000" stroke-width="1.1"/><text x="395.75" y="481.8">0.5</text></g><g transform="translate(478.6 396.6)"><g clip-path="url(#cp)"><rect width="218.9" height="208.8" fill="#97b6e1"/><g transform="translate(0 0)"><use href="#ld" fill="#efefdb"/><use href="#ex" fill="#e9f6ab"/><g stroke-width="0.5" stroke-linejoin="miter"><path fill="#cbb05d" stroke="#cbb05d" d="M84.5 2.6L99.5 2.3L99.6 7.7L84.6 8zM104.5 2.2L109.4 2.1L109.6 7.4L104.6 7.5zM129.4 1.7L214.4 -0.2L214.5 5.1L129.6 7zM84.6 8L94.6 7.8L94.7 13.1L84.7 13.3zM129.6 7L154.5 6.5L154.7 11.8L129.7 12.3zM179.5 5.9L214.5 5.1L214.6 10.5L179.6 11.3zM134.7 12.2L154.7 11.8L154.8 17.1L134.8 17.6zM179.6 11.3L214.6 10.5L214.7 15.8L179.7 16.6zM84.9 18.7L89.9 18.6L90 23.9L85 24zM94.8 18.5L99.8 18.3L100 23.7L95 23.8zM129.8 17.7L134.8 17.6L134.9 22.9L129.9 23zM169.7 16.8L214.7 15.8L214.8 21.2L169.9 22.2zM85 24L100 23.7L100.1 29L85.1 29.4zM124.9 23.1L134.9 22.9L135 28.3L125 28.5zM169.9 22.2L214.8 21.2L214.9 26.5L170 27.5zM120.1 28.6L135 28.3L135.2 33.6L120.2 33.9zM170 27.5L214.9 26.5L215 31.9L170.1 32.8zM95.2 34.5L100.2 34.4L100.4 39.7L95.4 39.9zM120.2 33.9L135.2 33.6L135.3 39L120.3 39.3zM170.1 32.8L205 32.1L205.1 37.4L170.2 38.2zM210 32L215 31.9L215.1 37.2L210.1 37.3zM115.3 39.4L135.3 39L135.4 44.3L115.4 44.8zM170.2 38.2L195.1 37.6L195.2 43L170.3 43.5zM115.4 44.8L190.2 43.1L190.3 48.4L115.6 50.1zM120.6 50L135.5 49.7L135.6 55L120.7 55.3zM150.5 49.3L185.4 48.5L185.5 53.9L150.6 54.7zM120.7 55.3L135.6 55L135.7 60.3L120.8 60.7zM150.6 54.7L180.5 54L180.6 59.3L150.7 60zM120.8 60.7L135.7 60.3L135.9 65.7L120.9 66zM150.7 60L175.6 59.5L175.7 64.8L150.8 65.4zM120.9 66L135.9 65.7L136 71L121 71.4zM150.8 65.4L175.7 64.8L175.8 70.1L150.9 70.7zM210.6 64L215.6 63.9L215.7 69.2L210.7 69.3zM121 71.4L175.8 70.1L175.9 75.5L121.2 76.7zM210.7 69.3L215.7 69.2L215.8 74.6L210.8 74.7zM136.1 76.4L171 75.6L171.1 80.9L136.2 81.7zM210.8 74.7L215.8 74.6L215.9 79.9L210.9 80zM121.3 82.1L126.3 82L126.4 87.3L121.4 87.4zM136.2 81.7L171.1 80.9L171.2 86.3L136.3 87.1zM210.9 80L215.9 79.9L216 85.3L211 85.4zM121.4 87.4L126.4 87.3L126.5 92.6L121.5 92.8zM136.3 87.1L166.2 86.4L166.3 91.7L136.5 92.4zM206 85.5L216 85.3L216.1 90.6L206.1 90.8zM121.5 92.8L126.5 92.6L126.6 98L121.7 98.1zM136.5 92.4L166.3 91.7L166.4 97.1L136.6 97.8zM206.1 90.8L216.1 90.6L216.2 95.9L206.2 96.2zM121.7 98.1L126.6 98L126.8 103.3L121.8 103.5zM136.6 97.8L161.4 97.2L161.6 102.5L136.7 103.1zM211.2 96.1L216.2 95.9L216.3 101.3L211.3 101.4zM121.8 103.5L126.8 103.3L126.9 108.7L121.9 108.8zM146.6 102.9L161.6 102.5L161.7 107.9L146.8 108.2zM121.9 108.8L126.9 108.7L127 114L122 114.1zM146.8 108.2L161.7 107.9L161.8 113.2L146.9 113.6zM122 114.1L127 114L127.1 119.4L122.2 119.5zM146.9 113.6L156.8 113.3L156.9 118.7L147 118.9zM122.2 119.5L127.1 119.4L127.2 124.7L122.3 124.8zM147 118.9L156.9 118.7L157 124L147.1 124.3zM122.3 124.8L127.2 124.7L127.4 130.1L122.4 130.2zM147.1 124.3L152.1 124.1L152.2 129.5L147.2 129.6zM211.7 122.8L216.6 122.6L216.7 128L211.8 128.1zM3.3 133L8.2 132.8L8.4 138.2L3.4 138.3zM72.8 131.3L77.7 131.2L77.9 136.6L72.9 136.7zM122.4 130.2L127.4 130.1L127.5 135.4L122.5 135.5zM147.2 129.6L152.2 129.5L152.3 134.8L147.3 135zM211.8 128.1L216.7 128L216.8 133.3L211.9 133.4zM3.4 138.3L13.3 138.1L13.5 143.4L3.6 143.7zM72.9 136.7L77.9 136.6L78 141.9L73 142zM122.5 135.5L127.5 135.4L127.6 140.8L122.6 140.9zM68.1 142.2L87.9 141.7L88 147L68.2 147.5zM117.7 141L132.6 140.6L132.7 146L117.8 146.3zM142.5 140.4L147.5 140.3L147.6 145.6L142.6 145.8zM68.2 147.5L88 147L88.2 152.4L68.3 152.9zM112.9 146.5L132.7 146L132.8 151.3L113 151.8zM68.3 152.9L93.1 152.3L93.3 157.6L68.5 158.2zM113 151.8L132.8 151.3L132.9 156.7L113.1 157.2zM4 159.7L9 159.6L9.1 165L4.2 165.1zM68.5 158.2L93.3 157.6L93.4 163L68.6 163.6zM103.2 157.4L142.9 156.4L143 161.8L103.3 162.7zM4.2 165.1L9.1 165L9.3 170.3L4.3 170.4zM73.6 163.4L143 161.8L143.1 167.1L73.7 168.8zM24.2 170L29.1 169.8L29.3 175.2L24.3 175.3zM73.7 168.8L93.5 168.3L93.7 173.7L73.8 174.1zM108.4 168L148 167L148.2 172.4L108.5 173.3zM19.4 175.4L34.2 175.1L34.4 180.4L19.5 180.8zM68.9 174.3L93.7 173.7L93.8 179L69 179.6zM108.5 173.3L158.1 172.1L158.2 177.5L108.7 178.7zM24.5 180.7L39.3 180.3L39.5 185.7L24.6 186zM69 179.6L93.8 179L93.9 184.4L69.2 185zM108.7 178.7L158.2 177.5L158.3 182.8L108.8 184zM24.6 186L39.5 185.7L39.6 191L24.8 191.4zM64.2 185.1L158.3 182.8L158.4 188.2L64.4 190.4zM69.3 190.3L163.4 188L163.5 193.4L69.4 195.7zM84.3 195.3L163.5 193.4L163.6 198.7L84.4 200.6zM84.4 200.6L163.6 198.7L163.7 203.1L84.5 205.1z"/><path fill="#d2bb68" stroke="#d2bb68" d="M154.5 6.5L179.5 5.9L179.6 11.3L154.7 11.8zM154.7 11.8L179.6 11.3L179.7 16.6L154.8 17.1zM134.8 17.6L169.7 16.8L169.9 22.2L134.9 22.9zM134.9 22.9L144.9 22.7L145 28.1L135 28.3zM154.9 22.5L169.9 22.2L170 27.5L155 27.8zM135 28.3L145 28.1L145.1 33.4L135.2 33.6zM155 27.8L170 27.5L170.1 32.8L155.1 33.2zM135.2 33.6L170.1 32.8L170.2 38.2L135.3 39zM135.3 39L170.2 38.2L170.3 43.5L135.4 44.3zM135.5 49.7L150.5 49.3L150.6 54.7L135.6 55zM135.6 55L150.6 54.7L150.7 60L135.7 60.3zM135.7 60.3L150.7 60L150.8 65.4L135.9 65.7zM135.9 65.7L150.8 65.4L150.9 70.7L136 71zM126.1 76.6L136.1 76.4L136.2 81.7L126.3 82zM126.3 82L136.2 81.7L136.3 87.1L126.4 87.3zM126.4 87.3L136.3 87.1L136.5 92.4L126.5 92.6zM126.5 92.6L136.5 92.4L136.6 97.8L126.6 98zM126.6 98L136.6 97.8L136.7 103.1L126.8 103.3zM126.8 103.3L146.6 102.9L146.8 108.2L126.9 108.7zM126.9 108.7L146.8 108.2L146.9 113.6L127 114zM127 114L146.9 113.6L147 118.9L127.1 119.4zM127.1 119.4L132.1 119.3L132.2 124.6L127.2 124.7zM142 119L147 118.9L147.1 124.3L142.1 124.4zM127.2 124.7L132.2 124.6L132.3 130L127.4 130.1zM142.1 124.4L147.1 124.3L147.2 129.6L142.3 129.7zM127.4 130.1L132.3 130L132.5 135.3L127.5 135.4zM142.3 129.7L147.2 129.6L147.3 135L142.4 135.1zM127.5 135.4L147.3 135L147.5 140.3L127.6 140.8zM132.6 140.6L142.5 140.4L142.6 145.8L132.7 146zM132.7 146L142.6 145.8L142.7 151.1L132.8 151.3zM132.8 151.3L142.7 151.1L142.9 156.4L132.9 156.7zM93.5 168.3L108.4 168L108.5 173.3L93.7 173.7zM93.7 173.7L108.5 173.3L108.7 178.7L93.8 179zM93.8 179L108.7 178.7L108.8 184L93.9 184.4z"/><path fill="#d9c976" stroke="#d9c976" d="M144.9 22.7L154.9 22.5L155 27.8L145 28.1zM145 28.1L155 27.8L155.1 33.2L145.1 33.4zM161.4 97.2L166.4 97.1L166.5 102.4L161.6 102.5zM156.8 113.3L161.8 113.2L161.9 118.6L156.9 118.7zM132.1 119.3L142 119L142.1 124.4L132.2 124.6zM132.2 124.6L142.1 124.4L142.3 129.7L132.3 130zM132.3 130L142.3 129.7L142.4 135.1L132.5 135.3zM142.9 156.4L147.8 156.3L147.9 161.7L143 161.8z"/></g><use href="#gl" fill="none" stroke="#b0b0b0" stroke-width="1.1" stroke-opacity="1"/><use href="#co" fill="none" stroke="#808080" stroke-width="1.35" stroke-linejoin="round"/></g></g><rect width="218.9" height="208.8" fill="none" stroke="#000" stroke-width="1.1"/></g><g font-size="13.89"><text x="479.25" y="386" text-anchor="middle" font-size="13.5">112.5°E</text><text x="485.3" y="622.7" text-anchor="middle" font-size="13.5">112.5°E</text><text x="541.75" y="386" text-anchor="middle" font-size="13.5">113°E</text><text x="547.15" y="622.7" text-anchor="middle" font-size="13.5">113°E</text><text x="604.25" y="386" text-anchor="middle" font-size="13.5">113.5°E</text><text x="609" y="622.7" text-anchor="middle" font-size="13.5">113.5°E</text><text x="666.75" y="386" text-anchor="middle" font-size="13.5">114°E</text><text x="670.85" y="622.7" text-anchor="middle" font-size="13.5">114°E</text><text x="471.9" y="420.1" text-anchor="end">21.6°S</text><text x="471.9" y="446.89" text-anchor="end">21.8°S</text><text x="471.9" y="473.67" text-anchor="end">22°S</text><text x="471.9" y="500.46" text-anchor="end">22.2°S</text><text x="471.9" y="527.24" text-anchor="end">22.4°S</text><text x="471.9" y="554.03" text-anchor="end">22.6°S</text><text x="471.9" y="580.82" text-anchor="end">22.8°S</text><text x="471.9" y="607.6" text-anchor="end">23°S</text></g><text x="588.05" y="366.6" font-size="16.67" text-anchor="middle">v std. [m/s]</text><linearGradient id="g4" x1="0" y1="1" x2="0" y2="0"><stop offset="0" stop-color="#e9f6ab"/><stop offset="0.33" stop-color="#c3a04c"/><stop offset="0.66" stop-color="#85603c"/><stop offset="1" stop-color="#221f1b"/></linearGradient><rect x="711.5" y="476.6" width="2.45" height="49" fill="url(#g4)" stroke="#000" stroke-width="1.1"/><g font-size="13.89"><path d="M713.95 525.6h4.9" stroke="#000" stroke-width="1.1"/><text x="723.75" y="530.8">0.0</text><path d="M713.95 476.6h4.9" stroke="#000" stroke-width="1.1"/><text x="723.75" y="481.8">0.5</text></g><g transform="translate(806.6 396.6)"><g clip-path="url(#cp)"><rect width="218.9" height="208.8" fill="#97b6e1"/><g transform="translate(0.5 0.4)"><use href="#ld" fill="#efefdb"/><use href="#ex" fill="#fff6f4"/><g stroke-width="0.5" stroke-linejoin="miter"><path fill="#e5e6d7" stroke="#e5e6d7" d="M84.5 2.6L99.5 2.3L99.6 7.7L84.6 8zM104.5 2.2L109.4 2.1L109.6 7.4L104.6 7.5zM129.4 1.7L164.4 0.9L164.5 6.2L129.6 7zM84.6 8L94.6 7.8L94.7 13.1L84.7 13.3zM129.6 7L139.5 6.8L139.7 12.1L129.7 12.3zM144.5 6.7L149.5 6.6L149.7 11.9L144.7 12zM154.5 6.5L164.5 6.2L164.6 11.6L154.7 11.8zM134.7 12.2L144.7 12L144.8 17.4L134.8 17.6zM149.7 11.9L164.6 11.6L164.8 16.9L149.8 17.3zM84.9 18.7L89.9 18.6L90 23.9L85 24zM94.8 18.5L99.8 18.3L100 23.7L95 23.8zM129.8 17.7L139.8 17.5L139.9 22.8L129.9 23zM144.8 17.4L149.8 17.3L149.9 22.6L144.9 22.7zM154.8 17.1L164.8 16.9L164.9 22.3L154.9 22.5zM85 24L100 23.7L100.1 29L85.1 29.4zM124.9 23.1L144.9 22.7L145 28.1L125 28.5zM149.9 22.6L164.9 22.3L165 27.6L150 27.9zM120.1 28.6L140 28.2L140.1 33.5L120.2 33.9zM145 28.1L150 27.9L150.1 33.3L145.1 33.4zM155 27.8L165 27.6L165.1 33L155.1 33.2zM95.2 34.5L100.2 34.4L100.4 39.7L95.4 39.9zM120.2 33.9L145.1 33.4L145.2 38.7L120.3 39.3zM150.1 33.3L165.1 33L165.2 38.3L150.2 38.6zM115.3 39.4L165.2 38.3L165.3 43.6L115.4 44.8zM120.4 44.6L130.4 44.4L130.5 49.8L120.6 50zM125.5 49.9L135.5 49.7L135.6 55L125.7 55.2zM125.7 55.2L135.6 55L135.7 60.3L125.8 60.6zM125.8 60.6L135.7 60.3L135.9 65.7L125.9 65.9zM125.9 65.9L135.9 65.7L136 71L126 71.3zM126 71.3L136 71L136.1 76.4L126.1 76.6zM131.1 76.5L141.1 76.3L141.2 81.6L131.2 81.8zM210.8 74.7L215.8 74.6L215.9 79.9L210.9 80zM126.3 82L136.2 81.7L136.3 87.1L126.4 87.3zM210.9 80L215.9 79.9L216 85.3L211 85.4zM126.4 87.3L136.3 87.1L136.5 92.4L126.5 92.6zM206 85.5L211 85.4L211.1 90.7L206.1 90.8zM126.5 92.6L136.5 92.4L136.6 97.8L126.6 98zM206.1 90.8L211.1 90.7L211.2 96.1L206.2 96.2zM126.6 98L136.6 97.8L136.7 103.1L126.8 103.3zM161.4 97.2L166.4 97.1L166.5 102.4L161.6 102.5zM126.8 103.3L151.6 102.8L151.7 108.1L126.9 108.7zM126.9 108.7L151.7 108.1L151.8 113.5L127 114zM127 114L151.8 113.5L152 118.8L127.1 119.4zM127.1 119.4L152 118.8L152.1 124.1L127.2 124.7zM127.2 124.7L152.1 124.1L152.2 129.5L127.4 130.1zM127.4 130.1L152.2 129.5L152.3 134.8L127.5 135.4zM3.4 138.3L8.4 138.2L8.5 143.6L3.6 143.7zM127.5 135.4L147.3 135L147.5 140.3L127.6 140.8zM117.7 141L142.5 140.4L142.6 145.8L117.8 146.3zM112.9 146.5L142.6 145.8L142.7 151.1L113 151.8zM73.3 152.7L78.3 152.6L78.4 158L73.4 158.1zM113 151.8L142.7 151.1L142.9 156.4L113.1 157.2zM73.4 158.1L78.4 158L78.5 163.3L73.6 163.4zM103.2 157.4L142.9 156.4L143 161.8L103.3 162.7zM78.5 163.3L83.5 163.2L83.6 168.6L78.7 168.7zM98.4 162.9L103.3 162.7L103.4 168.1L98.5 168.2zM24.2 170L29.1 169.8L29.3 175.2L24.3 175.3zM78.7 168.7L83.6 168.6L83.8 173.9L78.8 174zM98.5 168.2L103.4 168.1L103.6 173.4L98.6 173.5zM19.4 175.4L24.3 175.3L24.5 180.7L19.5 180.8zM29.3 175.2L34.2 175.1L34.4 180.4L29.4 180.6zM64.2 185.1L69.2 185L69.3 190.3L64.4 190.4zM69.3 190.3L74.3 190.2L74.4 195.5L69.4 195.7z"/><path fill="#f0ede2" stroke="#f0ede2" d="M164.4 0.9L184.4 0.5L184.5 5.8L164.5 6.2zM139.5 6.8L144.5 6.7L144.7 12L139.7 12.1zM149.5 6.6L154.5 6.5L154.7 11.8L149.7 11.9zM164.5 6.2L184.5 5.8L184.6 11.1L164.6 11.6zM144.7 12L149.7 11.9L149.8 17.3L144.8 17.4zM164.6 11.6L184.6 11.1L184.7 16.5L164.8 16.9zM139.8 17.5L144.8 17.4L144.9 22.7L139.9 22.8zM149.8 17.3L154.8 17.1L154.9 22.5L149.9 22.6zM164.8 16.9L184.7 16.5L184.8 21.8L164.9 22.3zM144.9 22.7L149.9 22.6L150 27.9L145 28.1zM164.9 22.3L184.8 21.8L184.9 27.2L165 27.6zM140 28.2L145 28.1L145.1 33.4L140.1 33.5zM150 27.9L155 27.8L155.1 33.2L150.1 33.3zM165 27.6L184.9 27.2L185 32.5L165.1 33zM145.1 33.4L150.1 33.3L150.2 38.6L145.2 38.7zM165.1 33L185 32.5L185.2 37.9L165.2 38.3zM165.2 38.3L185.2 37.9L185.3 43.2L165.3 43.6zM130.4 44.4L150.3 44L150.5 49.3L130.5 49.8zM135.5 49.7L155.4 49.2L155.6 54.6L135.6 55zM135.6 55L155.6 54.6L155.7 59.9L135.7 60.3zM135.7 60.3L155.7 59.9L155.8 65.2L135.9 65.7zM135.9 65.7L155.8 65.2L155.9 70.6L136 71zM210.6 64L215.6 63.9L215.7 69.2L210.7 69.3zM136 71L155.9 70.6L156 75.9L136.1 76.4zM170.8 70.2L175.8 70.1L175.9 75.5L171 75.6zM210.7 69.3L215.7 69.2L215.8 74.6L210.8 74.7zM141.1 76.3L161 75.8L161.1 81.2L141.2 81.6zM136.2 81.7L156.1 81.3L156.2 86.6L136.3 87.1zM136.3 87.1L156.2 86.6L156.4 92L136.5 92.4zM136.5 92.4L156.4 92L156.5 97.3L136.6 97.8zM136.6 97.8L156.5 97.3L156.6 102.7L136.7 103.1zM151.6 102.8L156.6 102.7L156.7 108L151.7 108.1zM151.7 108.1L156.7 108L156.8 113.3L151.8 113.5zM151.8 113.5L156.8 113.3L156.9 118.7L152 118.8zM152 118.8L156.9 118.7L157 124L152.1 124.1zM3.3 133L8.2 132.8L8.4 138.2L3.4 138.3zM72.8 131.3L77.7 131.2L77.9 136.6L72.9 136.7zM8.4 138.2L13.3 138.1L13.5 143.4L8.5 143.6zM72.9 136.7L77.9 136.6L78 141.9L73 142zM68.1 142.2L87.9 141.7L88 147L68.2 147.5zM142.5 140.4L147.5 140.3L147.6 145.6L142.6 145.8zM68.2 147.5L88 147L88.2 152.4L68.3 152.9zM68.3 152.9L73.3 152.7L73.4 158.1L68.5 158.2zM78.3 152.6L93.1 152.3L93.3 157.6L78.4 158zM4 159.7L9 159.6L9.1 165L4.2 165.1zM68.5 158.2L73.4 158.1L73.6 163.4L68.6 163.6zM78.4 158L93.3 157.6L93.4 163L78.5 163.3zM4.2 165.1L9.1 165L9.3 170.3L4.3 170.4zM73.6 163.4L78.5 163.3L78.7 168.7L73.7 168.8zM83.5 163.2L98.4 162.9L98.5 168.2L83.6 168.6zM103.3 162.7L143 161.8L143.1 167.1L103.4 168.1zM73.7 168.8L78.7 168.7L78.8 174L73.8 174.1zM83.6 168.6L98.5 168.2L98.6 173.5L83.8 173.9zM103.4 168.1L148 167L148.2 172.4L103.6 173.4zM68.9 174.3L158.1 172.1L158.2 177.5L69 179.6zM69 179.6L143.3 177.8L143.4 183.2L69.2 185zM69.2 185L143.4 183.2L143.6 188.5L69.3 190.3zM74.3 190.2L143.6 188.5L143.7 193.9L74.4 195.5zM84.3 195.3L143.7 193.9L143.8 199.2L84.4 200.6zM84.4 200.6L143.8 199.2L143.9 203.6L84.5 205.1z"/><path fill="#f8f1ea" stroke="#f8f1ea" d="M184.4 0.5L214.4 -0.2L214.5 5.1L184.5 5.8zM184.5 5.8L214.5 5.1L214.6 10.5L184.6 11.1zM184.6 11.1L214.6 10.5L214.7 15.8L184.7 16.5zM184.7 16.5L214.7 15.8L214.8 21.2L184.8 21.8zM184.8 21.8L214.8 21.2L214.9 26.5L184.9 27.2zM184.9 27.2L214.9 26.5L215 31.9L185 32.5zM185 32.5L205 32.1L205.1 37.4L185.2 37.9zM210 32L215 31.9L215.1 37.2L210.1 37.3zM185.2 37.9L195.1 37.6L195.2 43L185.3 43.2zM150.3 44L190.2 43.1L190.3 48.4L150.5 49.3zM155.4 49.2L185.4 48.5L185.5 53.9L155.6 54.6zM155.6 54.6L180.5 54L180.6 59.3L155.7 59.9zM155.7 59.9L175.6 59.5L175.7 64.8L155.8 65.2zM155.8 65.2L175.7 64.8L175.8 70.1L155.9 70.6zM155.9 70.6L170.8 70.2L171 75.6L156 75.9zM161 75.8L171 75.6L171.1 80.9L161.1 81.2zM156.1 81.3L171.1 80.9L171.2 86.3L156.2 86.6zM156.2 86.6L166.2 86.4L166.3 91.7L156.4 92zM156.4 92L166.3 91.7L166.4 97.1L156.5 97.3zM156.5 97.3L161.4 97.2L161.6 102.5L156.6 102.7zM156.6 102.7L161.6 102.5L161.7 107.9L156.7 108zM156.7 108L161.7 107.9L161.8 113.2L156.8 113.3zM156.8 113.3L161.8 113.2L161.9 118.6L156.9 118.7zM143.3 177.8L158.2 177.5L158.3 182.8L143.4 183.2zM143.4 183.2L158.3 182.8L158.4 188.2L143.6 188.5zM143.6 188.5L163.4 188L163.5 193.4L143.7 193.9zM143.7 193.9L163.5 193.4L163.6 198.7L143.8 199.2zM143.8 199.2L163.6 198.7L163.7 203.1L143.9 203.6z"/><path fill="#d5dcc8" stroke="#d5dcc8" d="M115.4 44.8L120.4 44.6L120.6 50L115.6 50.1zM120.6 50L125.5 49.9L125.7 55.2L120.7 55.3zM120.7 55.3L125.7 55.2L125.8 60.6L120.8 60.7zM120.8 60.7L125.8 60.6L125.9 65.9L120.9 66zM120.9 66L125.9 65.9L126 71.3L121 71.4zM121 71.4L126 71.3L126.1 76.6L121.2 76.7zM126.1 76.6L131.1 76.5L131.2 81.8L126.3 82zM121.3 82.1L126.3 82L126.4 87.3L121.4 87.4zM121.4 87.4L126.4 87.3L126.5 92.6L121.5 92.8zM211 85.4L216 85.3L216.1 90.6L211.1 90.7zM121.5 92.8L126.5 92.6L126.6 98L121.7 98.1zM211.1 90.7L216.1 90.6L216.2 95.9L211.2 96.1zM121.7 98.1L126.6 98L126.8 103.3L121.8 103.5zM211.2 96.1L216.2 95.9L216.3 101.3L211.3 101.4zM121.8 103.5L126.8 103.3L126.9 108.7L121.9 108.8zM121.9 108.8L126.9 108.7L127 114L122 114.1zM122 114.1L127 114L127.1 119.4L122.2 119.5zM122.2 119.5L127.1 119.4L127.2 124.7L122.3 124.8zM122.3 124.8L127.2 124.7L127.4 130.1L122.4 130.2zM122.4 130.2L127.4 130.1L127.5 135.4L122.5 135.5zM122.5 135.5L127.5 135.4L127.6 140.8L122.6 140.9zM142.9 156.4L147.8 156.3L147.9 161.7L143 161.8zM24.3 175.3L29.3 175.2L29.4 180.6L24.5 180.7zM34.4 180.4L39.3 180.3L39.5 185.7L34.5 185.8zM34.5 185.8L39.5 185.7L39.6 191L34.7 191.1z"/><path fill="#c0d2b4" stroke="#c0d2b4" d="M211.7 122.8L216.6 122.6L216.7 128L211.8 128.1zM24.5 180.7L34.4 180.4L34.5 185.8L24.6 186zM24.6 186L34.5 185.8L34.7 191.1L24.8 191.4z"/><path fill="#a4c6a0" stroke="#a4c6a0" d="M211.8 128.1L216.7 128L216.8 133.3L211.9 133.4z"/></g><use href="#gl" fill="none" stroke="#b0b0b0" stroke-width="1.1" stroke-opacity="1"/><use href="#co" fill="none" stroke="#808080" stroke-width="1.35" stroke-linejoin="round"/></g></g><rect width="218.9" height="208.8" fill="none" stroke="#000" stroke-width="1.1"/></g><g font-size="13.89"><text x="807.25" y="386" text-anchor="middle" font-size="13.5">112.5°E</text><text x="813.3" y="622.7" text-anchor="middle" font-size="13.5">112.5°E</text><text x="869.75" y="386" text-anchor="middle" font-size="13.5">113°E</text><text x="875.15" y="622.7" text-anchor="middle" font-size="13.5">113°E</text><text x="932.25" y="386" text-anchor="middle" font-size="13.5">113.5°E</text><text x="937" y="622.7" text-anchor="middle" font-size="13.5">113.5°E</text><text x="994.75" y="386" text-anchor="middle" font-size="13.5">114°E</text><text x="998.85" y="622.7" text-anchor="middle" font-size="13.5">114°E</text><text x="799.9" y="420.1" text-anchor="end">21.6°S</text><text x="799.9" y="446.89" text-anchor="end">21.8°S</text><text x="799.9" y="473.67" text-anchor="end">22°S</text><text x="799.9" y="500.46" text-anchor="end">22.2°S</text><text x="799.9" y="527.24" text-anchor="end">22.4°S</text><text x="799.9" y="554.03" text-anchor="end">22.6°S</text><text x="799.9" y="580.82" text-anchor="end">22.8°S</text><text x="799.9" y="607.6" text-anchor="end">23°S</text></g><text x="916.05" y="366.6" font-size="16.67" text-anchor="middle">q std. [K hr <tspan dy="-6" font-size="11.67">−1</tspan><tspan dy="6">]</tspan></text><linearGradient id="g5" x1="0" y1="1" x2="0" y2="0"><stop offset="0" stop-color="#fff6f4"/><stop offset="0.33" stop-color="#8fc0a0"/><stop offset="0.66" stop-color="#1f7f7e"/><stop offset="1" stop-color="#151d44"/></linearGradient><rect x="1039.5" y="476.6" width="2.45" height="49" fill="url(#g5)" stroke="#000" stroke-width="1.1"/><g font-size="13.89"><path d="M1041.95 525.6h4.9" stroke="#000" stroke-width="1.1"/><text x="1051.75" y="530.8">0.0</text><path d="M1041.95 476.6h4.9" stroke="#000" stroke-width="1.1"/><text x="1051.75" y="481.8">0.1</text></g></svg></body></html>
